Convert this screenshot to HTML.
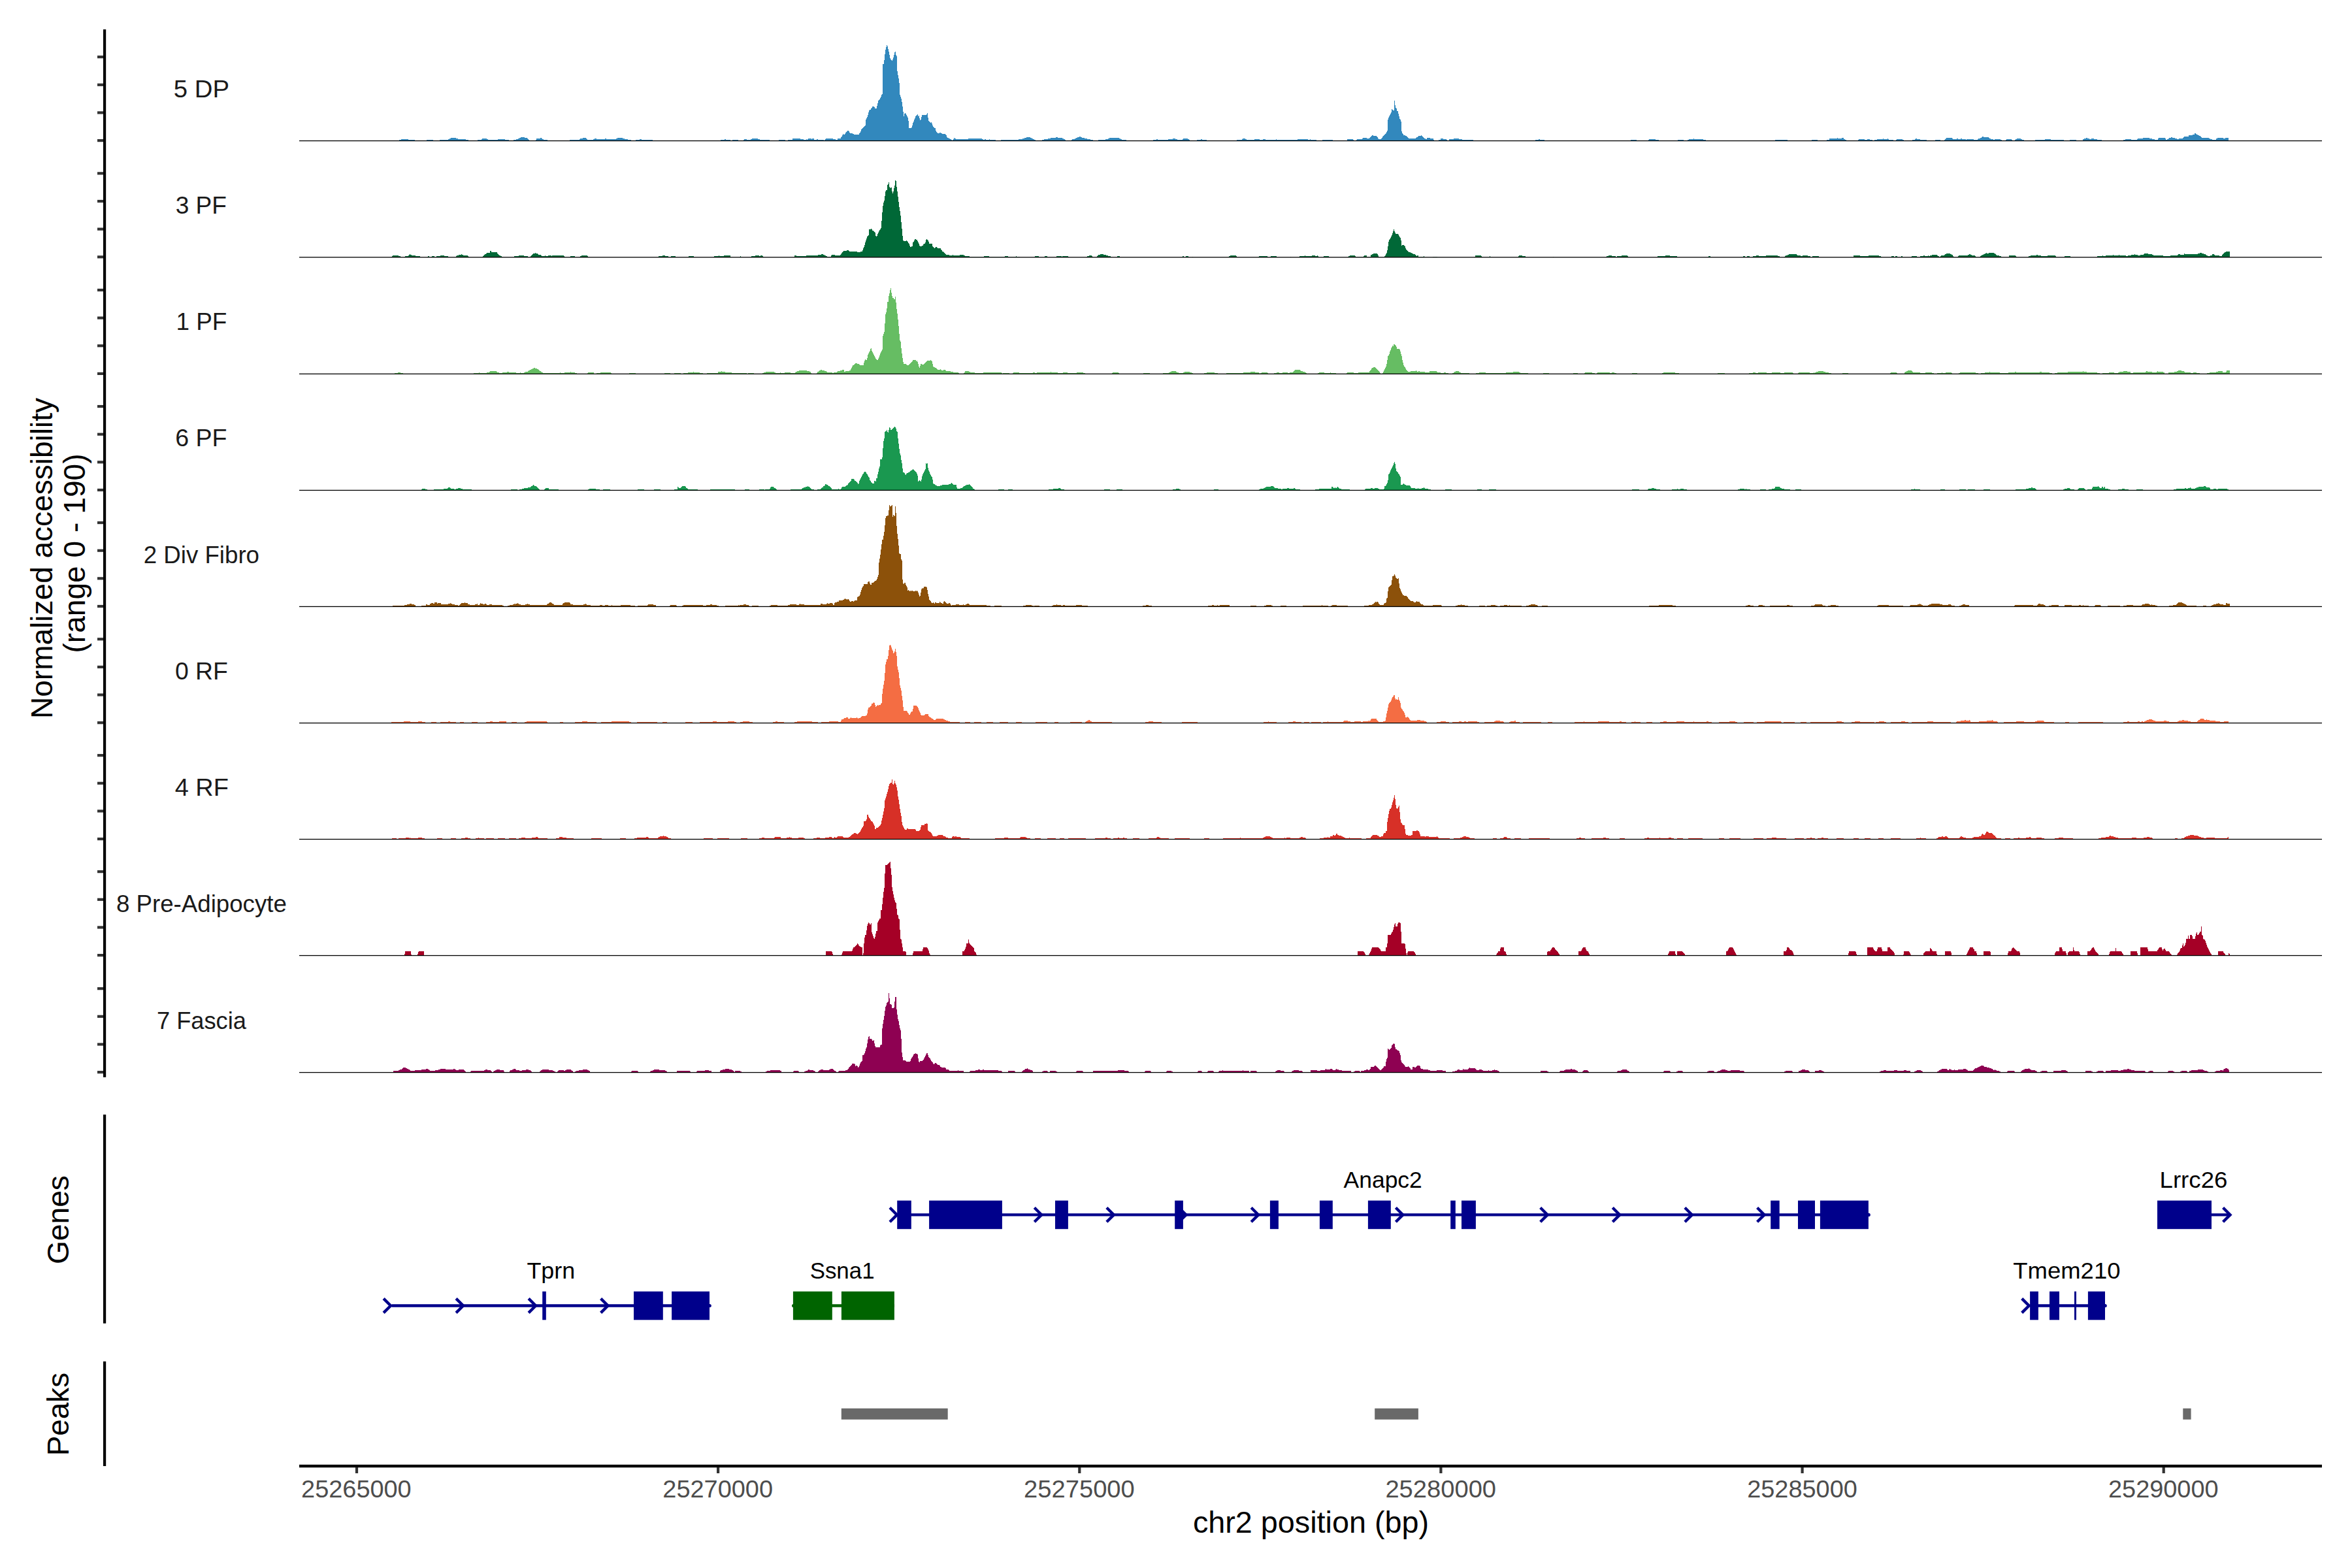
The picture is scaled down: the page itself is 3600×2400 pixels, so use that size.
<!DOCTYPE html>
<html lang="en"><head><meta charset="utf-8"><title>Coverage plot</title>
<style>html,body{margin:0;padding:0;background:#fff}body{width:3600px;height:2400px;overflow:hidden}svg{display:block}text{font-family:"Liberation Sans",sans-serif}</style></head><body>
<svg width="3600" height="2400" viewBox="0 0 3600 2400">
<rect width="3600" height="2400" fill="#fff"/>
<path d="M580.0,215.4L580.0,215.4L609.8,215.4L611.2,213.9L615.7,213.3L624.6,213.3L626.1,213.9L634.5,213.9L635.1,215.4L652.9,215.4L653.8,213.9L662.7,213.9L663.3,215.4L672.9,215.4L673.8,213.9L685.7,213.9L690.1,211.2L697.6,211.2L703.5,213.3L712.4,213.3L716.9,214.5L717.5,215.4L730.3,215.4L731.8,213.9L736.2,213.9L739.2,211.5L743.7,212.1L748.2,213.9L761.5,213.9L763.0,213.0L772.0,213.0L773.5,213.9L778.5,213.9L779.1,215.4L786.0,215.4L786.8,213.9L791.9,213.3L797.3,210.3L801.7,210.3L806.2,211.2L809.8,214.5L810.7,215.4L819.0,215.4L821.7,212.1L825.5,212.1L828.5,210.9L832.1,213.9L837.4,213.9L838.0,215.4L871.7,215.4L872.6,213.9L886.5,213.9L889.5,211.8L894.0,211.2L897.0,211.2L899.9,213.9L907.4,213.9L910.4,212.4L925.2,213.0L926.7,211.8L929.7,213.0L941.6,213.0L944.6,211.5L950.5,210.9L955.0,212.1L958.0,213.3L965.4,213.9L966.0,215.4L972.0,215.4L972.9,213.9L978.8,213.9L980.3,213.0L983.3,213.9L998.2,213.9L999.0,215.4L1102.9,215.4L1103.8,213.9L1108.3,213.9L1109.8,213.0L1112.7,213.9L1117.8,213.9L1118.7,215.4L1121.1,215.4L1121.7,213.9L1129.7,213.9L1130.0,215.4L1137.1,215.4L1138.0,213.9L1141.0,213.0L1144.0,213.9L1148.5,213.9L1149.9,212.7L1154.4,211.8L1158.9,211.8L1160.4,213.0L1164.8,213.9L1177.6,213.9L1178.2,215.4L1191.6,215.4L1192.5,213.9L1202.0,213.9L1202.6,215.4L1205.6,215.4L1206.5,213.9L1212.4,213.9L1213.3,211.8L1216.9,212.4L1219.9,211.8L1224.3,211.8L1225.8,213.0L1228.8,213.0L1230.3,213.9L1233.3,213.9L1234.2,213.0L1235.4,213.9L1237.7,211.8L1240.7,211.8L1242.2,213.0L1245.2,211.8L1246.7,213.9L1249.6,213.9L1250.5,213.0L1252.6,213.9L1258.6,213.9L1260.0,213.9L1261.9,214.8L1265.1,211.6L1273.4,211.6L1276.6,213.2L1278.5,212.5L1279.1,213.5L1281.9,213.5L1282.3,211.6L1286.8,211.6L1290.6,204.8L1292.1,206.1L1298.3,199.2L1300.6,203.3L1302.7,204.3L1305.7,204.6L1306.6,205.5L1314.8,205.5L1316.8,202.6L1318.4,198.4L1321.2,195.6L1325.1,191.8L1325.3,182.9L1328.2,177.8L1330.4,168.6L1332.1,168.2L1335.9,162.5L1337.8,162.5L1339.7,166.0L1340.6,165.7L1341.6,166.0L1344.2,154.8L1346.7,151.6L1348.9,147.8L1349.5,144.6L1350.9,144.4L1351.3,98.4L1352.9,98.1L1354.4,84.0L1355.9,73.8L1357.6,68.3L1359.2,73.2L1360.8,80.8L1363.1,92.3L1364.0,90.4L1365.2,94.2L1367.8,87.2L1369.4,80.2L1370.6,79.3L1371.0,83.6L1372.6,85.9L1373.0,105.7L1374.2,112.7L1375.4,119.7L1376.5,127.4L1377.1,144.0L1378.6,147.8L1379.9,152.3L1380.9,158.6L1381.8,165.7L1382.7,172.7L1383.5,178.2L1384.7,173.3L1386.3,173.7L1388.2,177.1L1389.8,180.6L1390.7,186.7L1391.1,196.3L1395.2,196.0L1397.8,187.3L1401.6,178.2L1404.8,175.2L1405.4,177.8L1406.7,177.1L1408.2,184.2L1409.9,182.2L1411.3,175.5L1418.2,175.5L1419.7,172.4L1421.0,183.9L1423.9,188.0L1425.8,187.3L1428.4,194.4L1431.6,196.3L1432.4,200.1L1435.4,204.3L1437.3,203.9L1439.0,202.3L1441.8,204.6L1445.6,204.6L1448.5,207.4L1450.1,211.2L1453.2,211.6L1457.1,214.8L1459.0,214.1L1460.5,211.3L1462.8,212.5L1470.5,212.5L1471.7,213.2L1474.9,213.2L1476.2,212.2L1476.8,213.2L1480.0,213.2L1483.9,211.6L1500.4,211.6L1504.9,213.5L1506.2,214.1L1506.8,213.2L1508.7,213.2L1509.4,214.1L1513.8,214.1L1514.8,213.2L1515.7,214.1L1523.4,214.4L1524.7,215.1L1531.7,215.1L1532.3,214.4L1540.6,214.4L1541.5,213.5L1542.1,214.4L1547.6,214.4L1548.5,213.5L1558.5,213.5L1560.0,212.8L1564.0,213.0L1569.9,210.6L1575.9,210.0L1580.3,212.4L1584.8,214.5L1585.4,215.4L1593.7,215.4L1596.7,213.6L1602.7,213.0L1608.6,211.2L1614.6,210.6L1617.5,210.3L1625.0,211.2L1629.5,213.3L1631.8,215.4L1638.4,215.4L1641.4,213.3L1645.8,212.4L1648.8,210.3L1653.3,209.2L1657.7,211.2L1662.2,211.8L1666.7,213.3L1672.6,213.9L1673.5,215.4L1680.0,215.4L1681.5,213.9L1690.5,213.9L1693.4,213.0L1696.4,212.4L1699.4,210.9L1702.4,211.5L1705.3,210.9L1711.3,210.9L1714.3,212.1L1717.2,213.9L1724.1,213.9L1724.7,215.4L1764.0,215.4L1764.9,213.9L1769.3,213.9L1770.8,213.0L1773.8,213.9L1787.2,213.9L1789.6,213.0L1794.6,213.0L1796.1,211.5L1799.1,212.4L1803.6,213.9L1809.5,213.9L1811.6,212.4L1815.5,211.8L1819.9,213.3L1822.3,215.4L1831.8,215.4L1832.7,213.9L1837.8,213.9L1838.7,213.0L1840.8,213.9L1846.7,213.9L1847.3,215.4L1892.2,215.4L1893.1,213.9L1900.3,213.9L1901.8,212.4L1906.2,212.4L1908.6,213.9L1919.6,213.9L1921.1,213.0L1927.1,213.0L1928.6,213.9L1932.4,213.9L1933.0,213.0L1936.0,213.0L1936.9,213.9L1952.4,213.9L1953.9,213.0L1954.8,213.9L1985.1,213.9L1986.6,213.0L2001.5,213.0L2003.0,213.9L2004.5,213.9L2005.9,213.0L2006.8,213.9L2014.9,213.9L2015.5,215.4L2019.3,215.4L2020.0,215.4L2023.8,215.4L2024.5,214.4L2039.8,214.4L2040.4,215.4L2060.8,215.4L2062.7,213.2L2070.4,213.2L2072.3,215.4L2074.8,215.4L2077.4,213.2L2083.5,213.2L2086.3,211.3L2092.1,211.3L2093.3,212.2L2095.9,212.2L2099.7,207.4L2102.3,207.4L2103.5,208.4L2107.4,208.4L2108.9,210.3L2109.9,213.2L2113.8,213.2L2117.6,207.7L2120.8,204.6L2122.9,201.8L2124.0,198.2L2124.3,183.5L2125.2,180.3L2127.8,175.2L2129.9,171.4L2130.3,166.3L2132.9,169.1L2134.0,168.8L2134.2,153.5L2134.8,153.5L2135.4,160.6L2136.1,165.0L2138.0,166.9L2138.2,169.5L2139.6,169.5L2140.2,173.3L2141.2,176.5L2142.1,182.2L2144.4,183.1L2145.0,199.5L2146.0,203.3L2148.6,206.7L2152.7,208.4L2157.1,212.0L2166.0,212.2L2171.1,208.4L2174.3,208.1L2175.4,207.4L2180.7,212.2L2183.9,213.2L2184.5,211.3L2188.4,211.3L2189.0,212.2L2193.5,212.2L2195.0,215.4L2201.1,215.4L2201.8,214.4L2204.9,214.4L2205.6,212.2L2208.5,212.2L2209.4,213.2L2213.2,213.2L2215.8,214.8L2216.4,215.4L2218.3,215.4L2218.5,213.2L2224.1,213.2L2225.0,212.2L2226.9,212.2L2227.7,211.3L2228.2,212.2L2232.4,212.2L2233.3,213.2L2237.5,213.2L2238.1,214.4L2249.0,214.4L2249.8,213.2L2250.6,214.4L2254.7,214.4L2255.3,215.4L2320.0,215.4L2350.1,215.4L2350.7,213.9L2354.6,213.9L2355.5,213.0L2357.6,213.9L2363.5,213.9L2364.1,215.4L2496.0,215.4L2496.5,213.9L2504.3,213.9L2504.9,215.4L2522.1,215.4L2523.3,213.9L2525.1,213.0L2533.2,213.0L2534.6,213.9L2538.5,213.9L2539.1,215.4L2568.0,215.4L2568.6,213.9L2576.3,213.9L2576.9,215.4L2582.9,215.4L2583.8,213.9L2586.7,213.0L2591.8,213.0L2592.4,212.1L2593.0,213.0L2606.1,213.0L2607.0,213.9L2610.5,213.9L2611.1,215.4L2716.2,215.4L2716.8,213.9L2735.5,213.9L2736.1,215.4L2772.7,215.4L2773.3,213.9L2781.7,213.9L2782.3,215.4L2795.1,215.4L2796.0,213.9L2799.5,213.9L2800.4,212.1L2804.0,211.5L2805.5,212.1L2811.4,212.1L2812.3,211.2L2814.4,212.1L2818.0,212.1L2818.9,211.2L2821.8,211.2L2822.7,213.0L2825.7,213.9L2826.9,215.4L2842.7,215.4L2844.2,213.9L2845.7,213.0L2853.1,213.0L2854.0,213.9L2857.6,213.9L2858.5,213.0L2861.4,213.0L2862.0,213.9L2865.6,213.9L2866.2,215.4L2868.9,215.4L2869.8,213.9L2872.4,213.9L2873.3,213.0L2881.4,213.0L2882.3,212.1L2883.5,213.0L2888.8,213.0L2889.7,212.1L2890.9,213.0L2891.8,213.9L2897.7,213.9L2898.3,215.4L2901.6,215.4L2902.5,213.9L2904.3,213.0L2911.1,213.0L2913.2,213.9L2914.1,215.4L2926.0,215.4L2926.9,213.9L2931.1,213.9L2932.9,212.1L2934.9,213.0L2937.9,213.0L2940.0,213.9L2961.0,215.4L2961.9,213.9L2969.3,213.9L2969.9,215.4L2975.0,215.4L2976.8,213.9L2978.9,211.2L2987.8,211.2L2989.3,213.0L2994.6,213.0L2995.8,211.8L2997.6,213.0L3000.6,213.0L3001.8,211.8L3004.2,213.0L3007.7,213.0L3009.5,213.9L3010.7,213.0L3020.5,213.0L3021.4,213.9L3026.5,213.9L3028.0,212.4L3031.0,211.8L3034.5,209.2L3037.5,210.0L3042.9,210.0L3045.2,211.8L3048.8,213.0L3052.4,213.9L3054.2,213.0L3060.7,213.0L3063.1,213.9L3064.3,215.4L3069.0,215.4L3070.2,213.9L3072.6,213.0L3078.0,213.0L3079.8,214.5L3080.4,215.4L3083.9,215.4L3085.1,213.3L3089.0,211.8L3092.9,212.4L3095.8,213.9L3097.9,214.5L3098.5,215.4L3114.3,215.4L3115.2,213.9L3129.2,213.9L3130.7,213.0L3138.1,213.0L3139.6,213.9L3158.3,213.9L3158.9,215.4L3167.9,215.4L3168.8,213.9L3177.4,213.9L3178.0,215.4L3187.2,215.4L3188.7,213.0L3191.1,211.8L3194.6,211.2L3197.6,212.4L3200.6,213.0L3202.1,211.8L3204.2,212.4L3209.5,213.0L3211.0,213.9L3217.0,213.9L3217.9,215.4L3249.1,215.4L3250.0,213.9L3252.7,213.9L3254.8,212.4L3257.1,213.0L3261.6,213.0L3262.5,213.9L3270.5,213.9L3272.0,212.4L3279.5,211.8L3281.0,210.9L3288.4,210.9L3290.5,211.8L3293.5,212.4L3297.3,213.0L3298.8,213.9L3302.4,213.9L3304.2,210.9L3314.3,210.9L3315.2,213.9L3318.2,213.0L3320.2,211.2L3322.6,211.2L3324.1,210.0L3325.6,211.2L3328.6,211.2L3331.5,212.4L3334.5,213.3L3336.0,211.8L3340.5,211.8L3342.9,209.7L3344.9,208.9L3349.4,208.9L3350.3,207.1L3355.4,207.1L3356.2,205.9L3358.3,206.5L3359.8,203.8L3362.8,205.9L3367.3,208.0L3370.2,210.9L3379.8,210.9L3382.1,212.4L3385.7,213.3L3386.6,213.9L3391.7,213.9L3392.9,211.8L3395.5,210.9L3402.4,210.9L3403.6,211.8L3406.0,211.8L3406.5,210.9L3410.7,210.9L3411.0,215.4L3411.0,215.4Z" fill="#3288BD" shape-rendering="crispEdges"/>
<rect x="458" y="214.90" width="3096" height="1.3" fill="#000"/>
<rect x="149" y="213.00" width="10" height="4.2" fill="#333"/>
<rect x="149" y="170.35" width="10" height="4.2" fill="#333"/>
<rect x="149" y="127.70" width="10" height="4.2" fill="#333"/>
<rect x="149" y="85.05" width="10" height="4.2" fill="#333"/>
<text id="s0" x="308.45" y="148.72" font-size="36.67" fill="#1a1a1a" text-anchor="middle" textLength="85.16" lengthAdjust="spacingAndGlyphs">5 DP</text>
<path d="M580.0,393.6L580.0,393.6L598.5,393.6L600.2,392.1L603.2,390.6L606.8,390.6L609.8,391.5L612.7,392.1L614.2,393.6L618.7,393.6L620.2,392.1L624.6,391.5L627.6,389.4L630.0,390.6L635.1,391.2L636.5,392.1L642.5,392.1L643.1,393.6L654.4,393.6L655.0,392.4L656.8,392.4L657.4,393.6L660.4,393.6L661.0,392.4L664.8,392.4L665.4,393.6L667.8,393.6L668.7,392.1L673.8,392.1L674.6,391.2L679.7,391.2L680.6,392.1L685.7,392.1L686.2,393.6L697.6,393.6L699.0,391.5L702.0,390.6L705.0,390.0L706.5,389.1L708.6,390.0L710.4,391.2L715.4,391.2L716.3,392.1L717.8,393.6L737.7,393.6L740.7,390.6L745.2,387.4L749.6,387.4L749.9,383.5L751.7,383.5L752.0,385.6L760.1,385.6L761.5,388.2L764.5,390.6L767.5,392.1L769.0,393.6L786.8,393.6L787.7,392.1L793.7,392.1L794.9,391.2L801.7,391.2L802.6,392.1L807.7,392.1L808.3,393.6L811.5,393.6L813.6,390.6L816.6,388.2L819.6,387.4L822.6,388.2L824.6,389.7L827.6,389.7L829.4,392.1L833.6,392.1L834.5,391.2L836.0,392.1L838.9,392.1L839.8,391.2L843.4,391.2L844.3,392.1L845.5,391.2L862.7,391.2L864.2,392.1L865.1,393.6L872.3,393.6L873.2,392.1L879.7,392.1L880.3,393.6L887.4,393.6L888.9,392.1L891.0,391.2L898.5,391.2L899.9,392.7L900.5,393.6L1007.7,393.6L1008.6,392.1L1013.0,392.1L1014.5,391.2L1017.5,391.2L1019.0,392.1L1022.6,392.1L1023.2,393.6L1026.4,393.6L1027.3,392.1L1033.9,392.1L1034.5,393.6L1053.8,393.6L1054.7,392.1L1061.5,392.1L1062.1,393.6L1091.9,393.6L1092.8,392.1L1099.3,392.1L1100.8,391.2L1102.3,392.1L1107.4,392.1L1108.6,391.2L1117.2,391.2L1118.1,392.1L1119.3,393.6L1132.1,393.6L1132.7,392.1L1133.9,392.1L1134.5,393.6L1149.3,393.6L1150.2,392.1L1155.9,392.1L1156.8,391.2L1161.8,391.2L1162.7,392.1L1164.2,391.2L1166.3,391.2L1167.2,392.1L1169.3,393.6L1215.4,393.6L1216.0,391.2L1218.4,391.2L1219.0,392.1L1222.3,392.1L1222.9,391.2L1224.3,392.1L1233.3,392.1L1234.2,391.2L1251.1,391.2L1252.6,390.0L1256.2,390.0L1257.4,389.1L1259.8,389.1L1260.0,390.0L1261.9,390.3L1264.5,391.8L1267.0,393.1L1271.5,393.1L1272.8,390.7L1274.7,390.0L1277.9,390.0L1279.1,391.0L1286.1,391.0L1287.4,388.8L1291.2,384.2L1295.1,383.9L1297.0,382.9L1298.3,383.3L1300.2,384.9L1311.0,384.9L1312.6,385.9L1316.1,385.9L1317.7,385.2L1319.3,384.9L1321.0,382.0L1323.8,373.7L1327.2,362.2L1329.9,359.4L1330.2,351.1L1332.7,351.0L1334.0,349.8L1335.0,352.7L1337.2,353.5L1339.7,356.2L1340.1,360.7L1341.6,362.2L1342.9,360.7L1343.2,358.1L1344.8,355.8L1346.7,352.0L1348.6,348.8L1349.3,341.2L1350.2,329.1L1351.2,316.3L1352.1,311.8L1353.8,306.1L1354.4,300.4L1355.4,293.3L1356.3,291.2L1357.6,291.0L1358.2,283.4L1359.5,281.6L1360.5,279.1L1361.1,284.4L1362.4,288.0L1364.0,287.2L1364.6,287.0L1364.8,290.5L1366.1,295.6L1367.1,295.9L1368.4,288.2L1369.7,283.4L1370.3,276.1L1371.6,277.0L1372.2,283.8L1373.3,290.8L1374.2,298.2L1375.2,306.1L1376.1,313.8L1377.3,322.0L1378.6,330.3L1379.3,338.6L1380.5,349.5L1381.4,359.4L1382.2,368.0L1384.4,369.0L1386.3,369.2L1388.2,368.0L1389.8,370.9L1391.4,373.1L1392.7,376.9L1393.7,378.2L1395.2,377.3L1396.7,376.9L1397.1,371.4L1399.0,369.6L1400.3,366.0L1401.8,366.3L1403.5,367.1L1406.0,372.4L1408.2,377.0L1410.5,376.9L1412.4,376.0L1414.3,373.4L1416.2,372.4L1417.5,367.1L1418.5,365.8L1420.5,368.0L1422.6,373.1L1423.9,373.4L1425.2,372.8L1426.5,373.4L1427.1,376.9L1430.3,379.8L1432.4,377.8L1433.7,378.2L1435.8,380.1L1437.9,379.4L1439.8,380.3L1442.4,384.9L1444.9,385.8L1448.1,390.0L1452.0,390.0L1453.9,391.0L1457.1,391.0L1458.0,390.0L1459.0,391.0L1467.9,391.0L1469.8,390.0L1474.3,390.0L1477.5,391.8L1483.9,392.1L1484.5,393.1L1505.5,393.1L1506.8,392.1L1513.2,392.1L1514.1,393.1L1523.0,393.1L1524.0,392.1L1525.1,393.1L1537.8,393.1L1538.7,392.1L1542.5,392.1L1543.4,393.1L1554.6,393.1L1555.4,392.1L1556.2,393.1L1560.0,393.1L1560.8,393.6L1584.0,393.6L1584.6,392.1L1589.7,392.1L1590.3,393.6L1598.9,393.6L1599.5,392.1L1602.5,392.1L1603.1,393.6L1616.8,393.6L1617.4,392.1L1624.8,392.1L1625.4,393.6L1626.0,392.1L1635.2,392.1L1635.8,393.6L1662.9,393.6L1663.8,392.1L1666.5,392.1L1667.4,391.2L1671.0,391.2L1672.4,392.4L1673.0,393.6L1678.7,393.6L1679.9,391.2L1682.9,389.7L1687.3,389.1L1691.8,390.0L1694.8,391.2L1699.2,392.1L1700.7,392.7L1701.3,393.6L1709.6,393.6L1710.2,392.1L1713.8,392.1L1714.4,393.6L1809.9,393.6L1810.5,392.1L1811.7,392.1L1812.3,393.6L1814.7,393.6L1815.3,392.1L1818.6,392.1L1819.2,393.6L1824.8,393.6L1825.4,392.4L1826.0,393.6L1880.8,393.6L1881.7,392.1L1883.8,391.2L1891.2,391.2L1892.7,392.4L1893.3,393.6L1926.0,393.6L1926.9,392.1L1940.3,392.1L1940.9,393.6L1943.9,393.6L1944.8,392.1L1953.7,392.1L1954.3,393.6L1975.1,393.6L1975.7,392.4L1976.3,393.6L1987.9,393.6L1988.8,392.1L1996.8,392.1L1997.4,391.2L1998.3,392.1L2007.3,392.1L2008.5,391.2L2012.3,391.2L2013.2,392.1L2015.6,392.1L2016.2,391.2L2017.4,392.1L2018.0,393.6L2019.2,393.6L2020.0,393.6L2024.5,393.6L2025.7,392.3L2034.0,392.3L2035.1,393.6L2062.7,393.6L2064.0,392.3L2065.9,391.4L2074.2,391.4L2075.5,392.6L2087.3,392.6L2088.6,391.4L2091.7,391.4L2092.4,392.6L2097.6,392.6L2098.4,390.4L2102.9,388.2L2107.4,388.2L2109.3,390.4L2110.8,393.3L2111.2,393.6L2118.9,393.6L2119.7,391.7L2122.0,388.5L2123.3,384.0L2124.3,378.3L2125.2,371.3L2126.2,367.5L2128.8,364.0L2130.7,359.8L2132.2,354.7L2133.5,351.3L2135.4,356.0L2137.1,358.3L2140.5,358.5L2141.8,361.7L2143.7,364.5L2144.7,369.1L2145.3,376.0L2146.9,375.1L2148.8,375.5L2150.7,376.8L2151.4,379.6L2152.7,382.4L2155.8,385.3L2157.8,386.2L2160.3,387.2L2163.5,388.8L2166.0,389.5L2168.0,391.7L2169.0,392.3L2169.5,391.4L2170.8,391.4L2171.4,392.6L2178.8,392.6L2179.4,391.4L2179.9,393.6L2192.8,393.6L2193.7,392.6L2199.2,392.6L2200.1,393.6L2257.0,393.6L2258.5,391.4L2267.4,391.4L2268.7,393.3L2269.0,393.6L2279.8,393.6L2280.5,392.3L2281.0,393.6L2320.0,393.6L2320.4,393.6L2323.9,393.6L2325.1,391.2L2329.3,391.2L2330.2,392.1L2334.6,392.1L2335.2,393.6L2376.6,393.6L2377.2,392.4L2377.8,393.6L2457.9,393.6L2458.8,392.1L2461.7,392.1L2462.6,391.2L2466.2,391.2L2467.1,392.1L2472.7,392.1L2473.3,393.6L2474.5,393.6L2475.4,392.1L2481.1,392.1L2482.0,391.2L2490.6,391.2L2491.5,392.1L2492.4,393.6L2536.7,393.6L2537.6,392.1L2548.9,392.1L2549.8,391.2L2555.5,391.2L2556.4,392.1L2566.5,392.1L2567.1,393.6L2615.0,393.6L2615.6,392.1L2617.7,392.1L2618.3,393.6L2668.0,393.6L2668.6,392.1L2670.7,392.1L2671.2,393.6L2673.9,393.6L2674.5,392.1L2677.5,392.1L2678.1,393.6L2682.0,393.6L2682.9,392.1L2687.9,392.1L2688.8,391.2L2691.8,391.2L2692.4,392.1L2702.8,392.1L2703.7,391.2L2720.7,391.2L2721.5,392.1L2723.6,392.1L2724.2,393.6L2730.5,393.6L2732.6,391.5L2737.0,390.0L2740.6,388.5L2744.5,388.5L2746.0,389.1L2749.5,389.1L2751.3,390.6L2755.5,391.2L2756.4,392.1L2758.5,392.1L2759.3,391.2L2766.8,391.2L2768.0,392.1L2770.4,392.1L2771.0,393.6L2773.6,393.6L2774.5,392.1L2783.8,392.1L2784.3,393.6L2836.7,393.6L2837.3,391.2L2846.5,391.2L2847.4,392.1L2859.6,392.1L2860.5,391.2L2875.4,391.2L2876.3,392.1L2879.3,392.1L2879.9,393.6L2894.8,393.6L2895.4,392.1L2898.6,392.1L2899.2,393.6L2900.7,393.6L2901.3,392.1L2903.7,392.1L2904.3,393.6L2909.6,393.6L2910.2,392.1L2911.7,392.1L2912.3,393.6L2925.4,393.6L2926.3,392.1L2934.3,392.1L2934.9,393.6L2936.4,393.6L2938.7,393.6L2939.6,392.1L2943.2,392.1L2944.0,391.2L2946.1,391.2L2947.0,392.1L2950.6,392.1L2951.5,391.2L2953.0,392.1L2955.1,391.2L2958.0,390.0L2964.0,390.0L2965.5,391.2L2967.9,392.1L2968.5,393.6L2969.9,392.1L2971.4,391.2L2975.9,391.2L2977.4,389.1L2980.4,388.2L2981.8,387.4L2983.9,388.2L2986.3,389.1L2988.7,390.6L2990.2,392.7L2990.8,393.6L2995.8,393.6L2997.0,392.1L2998.8,391.2L3011.6,391.2L3013.1,390.0L3014.6,389.1L3017.0,390.0L3018.5,391.2L3022.6,391.2L3024.4,392.7L3025.0,393.6L3029.5,393.6L3031.0,392.1L3033.3,390.6L3036.9,389.1L3039.3,388.2L3040.5,387.4L3043.5,388.2L3045.8,386.5L3050.3,386.5L3051.8,387.6L3054.8,389.1L3056.2,390.6L3059.2,391.2L3060.7,392.1L3062.8,392.1L3063.4,393.6L3074.7,393.6L3075.3,391.2L3084.5,391.2L3086.0,392.1L3087.5,393.6L3103.9,393.6L3104.8,392.1L3107.7,392.1L3108.9,391.2L3117.3,391.2L3117.9,389.1L3119.0,390.6L3123.2,391.2L3124.7,392.1L3133.6,392.1L3134.5,391.2L3145.5,391.2L3146.4,392.1L3147.3,393.6L3159.8,393.6L3160.7,392.1L3168.8,392.1L3169.3,393.6L3209.5,393.6L3210.4,392.1L3217.9,392.1L3218.5,391.2L3219.3,392.1L3222.9,392.1L3223.8,391.2L3233.9,391.2L3234.5,390.0L3235.4,391.2L3242.9,391.2L3243.8,390.0L3245.2,391.2L3253.6,391.2L3254.2,392.1L3256.5,392.1L3257.1,391.2L3261.6,390.6L3263.1,390.0L3266.7,390.0L3267.6,389.1L3268.5,390.0L3272.0,390.0L3272.9,391.2L3275.6,391.2L3276.5,390.0L3280.4,389.7L3282.4,388.2L3287.5,388.2L3289.3,389.1L3293.5,389.1L3295.8,390.6L3298.8,391.2L3310.7,391.2L3311.6,392.1L3321.1,392.1L3322.0,391.2L3332.1,391.2L3333.9,389.7L3336.0,388.2L3337.5,390.0L3342.9,390.0L3343.5,388.2L3344.3,389.1L3363.7,389.1L3364.9,388.2L3367.9,387.4L3370.2,387.4L3373.2,388.8L3376.2,389.7L3378.6,391.2L3380.1,392.4L3382.7,392.4L3383.6,391.2L3385.7,390.6L3386.6,389.1L3388.7,389.1L3390.5,390.6L3392.6,391.2L3397.0,391.2L3397.9,392.1L3400.9,392.1L3401.8,389.7L3403.6,387.4L3406.0,385.9L3409.5,384.7L3411.3,384.4L3412.5,385.3L3412.8,393.6L3412.8,393.6Z" fill="#006837" shape-rendering="crispEdges"/>
<rect x="458" y="393.10" width="3096" height="1.3" fill="#000"/>
<rect x="149" y="391.20" width="10" height="4.2" fill="#333"/>
<rect x="149" y="348.55" width="10" height="4.2" fill="#333"/>
<rect x="149" y="305.90" width="10" height="4.2" fill="#333"/>
<rect x="149" y="263.25" width="10" height="4.2" fill="#333"/>
<text id="s1" x="307.80" y="326.98" font-size="36.67" fill="#1a1a1a" text-anchor="middle" textLength="78.25" lengthAdjust="spacingAndGlyphs">3 PF</text>
<path d="M580.0,572.2L580.0,572.2L603.8,572.2L604.7,571.0L608.3,571.0L609.2,569.8L612.7,569.8L613.6,571.0L617.2,571.0L617.8,572.2L724.0,572.2L724.9,571.0L732.4,571.0L733.3,569.8L734.2,571.0L744.3,571.0L745.5,569.8L749.0,569.8L750.2,568.0L760.1,568.0L761.5,569.8L763.9,569.8L764.5,571.0L769.0,571.0L769.9,569.8L775.8,569.8L776.7,568.9L778.8,568.9L779.7,569.8L789.8,569.8L790.7,571.0L795.8,571.0L796.7,569.8L797.6,571.0L801.7,571.0L803.2,569.8L806.8,568.9L810.7,566.8L815.1,564.2L818.1,563.0L821.1,564.2L824.0,565.4L827.0,568.0L830.0,569.8L831.5,571.0L856.8,571.0L857.4,569.8L858.3,571.0L863.3,571.0L864.5,569.8L872.6,569.8L873.5,568.9L874.3,569.8L879.1,569.8L880.6,571.0L883.0,571.0L883.6,572.2L897.9,572.2L899.0,571.0L900.8,569.8L908.3,569.8L909.2,571.0L909.8,572.2L912.7,572.2L913.6,571.0L918.7,571.0L919.9,569.8L934.2,569.8L935.4,571.0L936.0,572.2L962.7,572.2L963.6,571.0L972.3,571.0L973.2,572.2L1016.9,572.2L1017.5,571.0L1025.5,571.0L1026.1,572.2L1031.8,572.2L1032.4,571.0L1041.6,571.0L1042.2,572.2L1045.8,572.2L1046.7,571.0L1052.6,571.0L1053.5,569.8L1060.7,569.8L1061.5,568.9L1062.4,569.8L1070.5,569.8L1071.4,571.0L1076.1,571.0L1076.7,572.2L1081.8,572.2L1082.7,571.0L1098.5,571.0L1099.6,568.9L1103.2,568.9L1104.1,568.0L1105.0,568.9L1108.3,568.9L1109.2,568.0L1110.1,569.8L1119.3,569.8L1120.5,571.0L1142.5,571.0L1143.4,572.2L1144.6,572.2L1145.5,571.0L1153.5,571.0L1154.1,572.2L1166.9,572.2L1167.8,571.0L1170.8,569.8L1175.2,568.9L1184.2,568.9L1185.7,569.8L1187.7,571.0L1193.7,571.0L1194.3,569.8L1195.2,571.0L1200.5,571.0L1201.4,569.8L1209.5,569.8L1210.4,571.0L1216.9,571.0L1218.4,568.9L1221.4,568.0L1224.3,566.8L1228.8,567.1L1231.8,566.8L1234.8,567.4L1237.7,568.0L1240.7,569.5L1242.8,572.2L1249.6,572.2L1251.1,569.5L1254.1,567.4L1257.1,566.2L1258.6,566.8L1260.0,567.4L1261.9,567.4L1264.5,568.4L1267.7,570.3L1274.0,570.3L1275.3,571.2L1276.6,570.3L1280.4,570.3L1282.3,568.4L1285.5,568.0L1286.8,567.1L1288.7,567.1L1289.6,566.3L1291.6,566.3L1292.1,569.3L1294.4,568.4L1299.5,568.4L1300.6,567.4L1301.8,567.1L1302.7,564.2L1305.3,559.3L1307.8,557.8L1309.7,556.1L1312.0,556.1L1312.9,557.1L1314.6,557.1L1316.1,559.1L1321.9,559.1L1322.2,555.5L1324.4,550.1L1326.1,550.8L1327.0,550.4L1328.5,543.1L1330.8,538.7L1332.4,534.2L1333.6,532.9L1334.2,536.7L1336.5,541.2L1339.1,546.3L1341.6,550.4L1343.5,551.2L1345.2,547.6L1348.0,539.9L1350.6,534.8L1351.2,515.1L1352.5,510.6L1353.8,506.8L1354.4,495.3L1355.0,492.1L1355.4,481.3L1356.7,477.4L1357.6,471.7L1358.2,461.1L1359.2,464.0L1359.7,460.6L1360.3,453.4L1361.4,449.4L1362.4,444.5L1363.6,441.1L1364.1,446.8L1365.2,450.6L1366.1,456.4L1367.1,455.1L1367.8,457.0L1368.4,457.7L1369.7,458.6L1369.9,454.2L1370.7,454.2L1371.0,462.8L1372.0,463.4L1372.2,471.1L1373.3,478.1L1374.2,486.4L1375.2,495.3L1376.1,504.9L1376.7,514.4L1377.3,520.8L1378.6,523.6L1379.3,531.0L1380.2,538.7L1381.2,545.7L1382.2,552.7L1383.1,557.1L1386.3,557.1L1387.6,557.8L1388.8,559.1L1390.7,559.1L1392.7,557.1L1395.2,554.2L1397.5,551.4L1399.7,551.0L1401.6,551.4L1402.6,552.9L1403.5,552.0L1404.8,554.2L1406.0,559.1L1407.3,563.1L1408.6,560.3L1409.2,557.1L1411.1,557.5L1411.8,558.0L1413.7,558.0L1416.2,555.5L1419.4,552.4L1422.0,552.0L1423.9,552.0L1424.8,551.2L1425.8,552.7L1426.8,553.7L1427.7,557.5L1428.4,561.0L1430.9,562.6L1432.8,563.5L1435.4,566.1L1438.6,566.3L1439.6,565.2L1441.4,567.4L1443.7,567.1L1444.9,566.1L1446.9,566.5L1448.8,568.0L1451.3,568.4L1455.2,568.4L1456.4,569.3L1459.0,569.3L1460.9,570.3L1466.6,570.5L1469.2,572.2L1474.9,572.2L1477.5,568.4L1483.2,568.4L1485.1,569.9L1488.3,570.3L1491.5,570.3L1492.4,571.2L1504.9,571.2L1505.5,570.3L1532.3,570.3L1534.2,571.8L1535.5,571.2L1545.1,571.2L1546.4,572.2L1549.5,572.2L1551.5,570.3L1560.0,570.3L1560.8,571.0L1581.1,571.0L1582.0,569.8L1583.5,569.8L1584.3,571.0L1587.0,571.0L1587.9,569.8L1607.9,569.8L1608.5,568.9L1609.3,569.8L1618.0,569.8L1618.9,571.0L1626.3,571.0L1627.2,569.8L1633.2,569.8L1634.0,571.0L1647.7,571.0L1648.6,569.8L1657.6,569.8L1659.0,571.0L1660.5,571.0L1661.1,572.2L1700.7,572.2L1702.2,571.0L1705.2,569.8L1711.1,569.8L1712.6,571.0L1714.1,572.2L1749.8,572.2L1750.7,571.0L1759.6,571.0L1760.2,572.2L1779.9,572.2L1780.8,571.0L1788.5,571.0L1790.0,569.8L1793.0,568.6L1796.0,567.7L1798.9,568.0L1801.9,569.8L1804.9,571.0L1810.8,571.0L1812.3,569.8L1815.3,568.9L1819.2,568.9L1821.2,569.8L1824.2,570.4L1825.7,571.6L1826.3,572.2L1842.7,572.2L1843.6,571.0L1846.5,571.0L1848.0,569.8L1857.9,569.8L1859.0,571.0L1863.5,571.0L1864.1,572.2L1876.6,572.2L1877.5,571.0L1902.5,571.0L1903.7,569.8L1913.5,569.8L1915.6,568.9L1920.4,568.9L1921.8,569.8L1926.3,569.8L1927.5,571.0L1928.4,572.2L1929.9,571.0L1931.7,569.8L1938.8,569.8L1940.3,571.0L1941.8,572.2L1949.8,572.2L1950.7,571.0L1953.7,571.0L1954.6,569.8L1957.3,569.8L1958.2,571.0L1962.6,571.0L1963.5,569.8L1970.1,569.8L1971.0,571.0L1973.9,571.0L1975.1,569.8L1979.0,569.8L1980.5,568.0L1982.0,566.2L1989.4,566.2L1990.9,567.4L1994.8,568.9L1998.3,569.8L1999.8,571.0L2001.3,572.2L2016.8,572.2L2018.0,571.0L2019.2,570.4L2020.0,570.0L2026.4,570.0L2027.0,571.1L2035.9,571.1L2036.6,570.0L2037.2,571.1L2044.2,571.1L2045.5,572.2L2060.8,572.2L2062.7,570.0L2071.7,570.0L2072.6,571.1L2078.7,571.1L2079.9,570.0L2095.9,570.0L2096.5,568.1L2099.7,564.0L2102.9,561.7L2105.5,563.0L2108.0,565.6L2110.6,568.1L2113.1,571.9L2115.0,572.2L2116.3,571.3L2118.9,566.2L2122.0,559.8L2123.3,552.8L2124.3,545.2L2125.9,543.9L2127.8,537.5L2129.9,532.4L2131.0,529.9L2131.9,528.8L2132.2,532.4L2132.9,527.3L2134.2,526.7L2135.4,527.9L2137.3,530.5L2138.6,533.9L2141.8,533.9L2143.1,536.5L2143.7,539.4L2144.7,542.0L2145.6,545.8L2146.9,552.8L2148.2,557.9L2149.5,560.5L2150.7,562.0L2151.4,564.3L2152.7,566.2L2155.2,569.0L2159.0,569.0L2159.7,567.9L2166.7,567.9L2167.6,566.8L2168.6,568.1L2169.2,569.0L2170.8,569.0L2171.5,567.9L2172.4,568.1L2173.1,569.0L2180.7,569.0L2181.4,570.0L2187.7,570.0L2188.4,567.9L2198.6,567.9L2200.1,569.8L2204.3,570.0L2205.2,571.1L2209.8,571.1L2210.4,570.0L2212.6,570.0L2213.2,571.1L2216.4,571.1L2217.4,572.2L2222.6,572.2L2224.7,570.4L2228.5,568.1L2232.4,567.9L2234.3,569.4L2236.2,571.1L2248.3,571.1L2249.6,572.2L2257.9,572.2L2259.2,571.1L2263.6,571.1L2264.6,570.0L2273.2,570.0L2274.1,571.1L2303.8,571.1L2305.1,570.0L2315.7,570.0L2316.6,569.0L2320.0,569.0L2320.4,568.9L2323.9,568.9L2325.1,569.8L2327.8,571.0L2338.2,571.0L2339.1,572.2L2361.4,572.2L2362.3,571.0L2370.4,571.0L2371.0,572.2L2407.6,572.2L2408.5,571.0L2414.7,571.0L2415.3,572.2L2424.5,572.2L2425.4,571.0L2427.5,569.8L2435.8,569.8L2437.0,571.0L2440.9,571.0L2441.5,572.2L2443.3,572.2L2444.2,571.0L2446.8,569.8L2463.2,569.8L2464.4,571.0L2466.8,571.0L2467.7,569.8L2470.7,569.8L2471.5,571.0L2473.6,571.0L2474.2,572.2L2497.4,572.2L2498.3,571.0L2505.5,571.0L2506.1,572.2L2543.6,572.2L2544.5,571.0L2547.4,569.8L2562.9,569.8L2564.4,571.0L2569.5,571.0L2570.1,572.2L2628.7,572.2L2629.6,571.0L2639.4,571.0L2640.0,572.2L2676.0,572.2L2676.9,571.0L2682.9,571.0L2683.8,569.8L2686.4,569.8L2687.3,571.0L2690.9,571.0L2691.8,569.8L2703.1,569.8L2704.3,571.0L2711.7,571.0L2712.6,569.8L2724.5,569.8L2725.7,571.0L2730.5,571.0L2731.7,569.8L2743.6,569.8L2744.8,571.0L2745.4,572.2L2751.3,572.2L2752.2,571.0L2753.4,569.8L2769.2,569.8L2770.4,571.0L2775.7,571.0L2776.3,569.8L2777.2,571.0L2778.7,569.8L2782.3,568.9L2784.6,568.0L2790.0,568.0L2792.1,568.9L2794.2,569.8L2798.0,569.8L2799.5,571.0L2802.5,571.0L2803.1,572.2L2819.8,572.2L2820.7,571.0L2828.4,571.0L2829.0,572.2L2892.4,572.2L2893.6,571.0L2895.7,569.8L2902.2,569.8L2903.7,571.0L2904.9,572.2L2914.4,572.2L2915.6,569.8L2918.6,568.0L2921.5,567.1L2925.4,567.1L2926.9,568.9L2929.0,569.8L2936.4,569.8L2938.7,569.8L2939.6,571.0L2946.1,571.0L2947.6,569.8L2956.0,569.8L2957.1,571.0L2959.5,571.0L2960.1,572.2L2964.0,572.2L2964.9,571.0L2971.4,571.0L2972.3,569.8L2973.8,571.0L2978.0,571.0L2979.2,569.8L2986.3,569.8L2987.5,571.0L2988.1,572.2L2997.6,572.2L2998.8,571.0L3001.2,569.8L3022.6,569.8L3024.4,571.0L3027.4,571.0L3028.0,572.2L3031.5,572.2L3032.4,571.0L3037.5,571.0L3038.7,569.8L3044.3,569.8L3045.2,568.9L3046.1,569.8L3060.1,569.8L3061.3,571.0L3073.2,571.0L3074.4,569.8L3083.9,569.8L3084.8,568.9L3086.0,569.8L3121.7,569.8L3122.6,568.9L3124.7,568.9L3125.6,569.8L3136.6,569.8L3138.1,571.0L3140.5,571.0L3141.1,572.2L3144.0,572.2L3144.9,571.0L3148.5,571.0L3149.4,569.8L3164.9,569.8L3165.8,568.0L3167.0,568.9L3187.2,568.9L3188.1,568.0L3189.3,568.9L3193.2,568.9L3194.0,569.8L3209.5,569.8L3211.0,571.0L3213.4,571.0L3214.0,572.2L3217.9,572.2L3218.8,571.0L3227.4,571.0L3228.9,569.8L3235.7,569.8L3236.6,571.0L3241.7,571.0L3242.9,569.8L3245.2,568.9L3248.8,568.9L3250.6,568.0L3254.8,568.0L3256.2,568.9L3260.1,568.9L3261.6,571.0L3264.6,571.0L3265.5,569.8L3283.3,569.8L3284.8,568.9L3286.3,568.0L3287.8,568.9L3292.9,568.9L3294.3,569.8L3301.2,569.8L3302.4,568.0L3303.9,568.9L3310.7,568.9L3312.5,570.4L3313.7,572.2L3318.8,572.2L3319.6,569.8L3327.1,569.8L3328.6,568.9L3331.5,568.9L3333.0,568.0L3335.1,567.1L3338.1,567.1L3339.9,568.0L3342.9,568.0L3344.0,569.8L3352.4,569.8L3353.6,571.0L3356.8,571.0L3357.7,569.8L3361.3,569.8L3362.2,571.0L3366.4,571.0L3367.3,572.2L3377.7,572.2L3378.6,571.0L3381.5,571.0L3382.7,569.8L3391.1,569.8L3392.6,568.9L3394.9,568.9L3396.1,568.0L3401.5,568.0L3402.4,569.8L3407.4,569.8L3408.0,567.1L3412.5,567.1L3412.8,572.2L3412.8,572.2Z" fill="#66BD63" shape-rendering="crispEdges"/>
<rect x="458" y="571.70" width="3096" height="1.3" fill="#000"/>
<rect x="149" y="569.80" width="10" height="4.2" fill="#333"/>
<rect x="149" y="527.15" width="10" height="4.2" fill="#333"/>
<rect x="149" y="484.50" width="10" height="4.2" fill="#333"/>
<rect x="149" y="441.85" width="10" height="4.2" fill="#333"/>
<text id="s2" x="308.45" y="505.23" font-size="36.67" fill="#1a1a1a" text-anchor="middle" textLength="77.95" lengthAdjust="spacingAndGlyphs">1 PF</text>
<path d="M580.0,750.3L580.0,750.3L644.9,750.3L646.1,748.2L650.8,748.2L652.0,749.1L653.8,749.1L654.4,750.3L663.9,750.3L664.8,749.1L669.3,749.1L669.9,748.2L671.1,749.1L678.8,749.1L679.7,748.2L684.8,748.2L686.5,746.4L688.6,746.4L690.1,747.6L694.6,748.2L695.5,749.1L697.6,749.1L698.5,748.2L700.5,748.2L701.4,747.3L705.0,747.3L705.9,748.2L708.0,748.2L708.9,749.1L722.3,749.1L722.9,750.3L781.8,750.3L782.7,749.1L791.3,749.1L792.2,750.3L794.9,750.3L795.8,749.1L798.8,749.1L799.6,748.2L801.7,748.2L802.6,747.3L807.7,747.3L808.6,745.5L812.1,745.5L813.0,744.3L815.1,743.5L816.6,742.3L818.1,743.5L820.5,744.3L822.6,745.8L824.0,748.2L825.5,749.1L826.7,750.3L831.8,750.3L833.0,749.1L835.1,747.3L839.5,747.3L840.7,749.1L855.3,749.1L855.9,750.3L899.9,750.3L900.8,749.1L902.9,748.2L911.8,748.2L913.3,749.1L917.8,749.1L918.4,750.3L922.9,750.3L923.8,749.1L933.6,749.1L934.2,750.3L975.8,750.3L976.7,749.1L985.4,749.1L986.0,750.3L1000.5,750.3L1001.4,749.1L1010.4,749.1L1011.0,750.3L1031.8,750.3L1032.7,749.1L1036.8,749.1L1037.4,745.2L1039.2,746.4L1040.7,747.3L1042.8,745.8L1044.3,744.3L1048.8,744.3L1050.2,746.4L1052.6,748.2L1054.7,749.1L1067.5,749.1L1068.1,750.3L1086.8,750.3L1087.7,749.1L1124.6,749.1L1125.2,750.3L1139.5,750.3L1140.4,749.1L1146.4,749.1L1147.0,750.3L1161.0,750.3L1161.8,749.1L1169.3,749.1L1170.2,750.3L1171.7,749.1L1177.6,749.1L1178.8,747.3L1180.6,745.2L1183.6,745.2L1184.8,746.4L1187.1,747.3L1188.9,749.1L1190.1,750.3L1209.8,750.3L1210.7,749.1L1226.4,749.1L1228.2,747.6L1230.3,746.4L1233.3,745.2L1236.2,744.3L1238.3,745.2L1240.7,747.3L1243.1,749.1L1245.5,749.1L1246.1,750.3L1250.8,750.3L1251.7,749.1L1255.6,749.1L1257.1,747.3L1259.5,745.8L1260.0,744.2L1261.9,743.7L1263.6,740.7L1265.1,742.0L1267.7,742.9L1270.8,745.5L1272.8,747.1L1273.4,749.0L1283.0,749.0L1283.6,747.7L1284.5,749.0L1286.5,749.0L1289.3,744.9L1293.4,744.9L1295.7,743.3L1297.2,742.6L1298.3,740.7L1300.8,737.9L1303.1,735.6L1303.4,732.8L1305.7,732.8L1307.4,734.0L1308.5,735.6L1310.4,736.9L1312.6,739.2L1313.6,741.0L1314.6,740.1L1315.1,736.3L1316.1,734.4L1318.0,731.2L1319.9,727.3L1322.5,722.9L1323.8,721.9L1325.1,722.2L1326.3,724.2L1328.2,727.3L1329.5,730.3L1330.8,731.8L1331.4,735.0L1332.7,736.3L1334.2,739.1L1336.5,740.4L1337.8,740.1L1338.2,736.0L1339.7,736.0L1340.6,736.9L1341.2,732.2L1342.7,732.2L1343.3,726.1L1344.2,723.5L1345.1,718.4L1346.5,714.6L1347.4,703.1L1349.9,702.9L1350.8,698.6L1351.3,687.2L1352.1,683.3L1352.5,675.0L1353.4,672.5L1353.8,668.0L1354.4,661.0L1355.7,660.0L1356.9,659.5L1357.6,657.8L1358.2,661.0L1359.5,662.5L1360.1,658.2L1361.0,658.2L1361.4,654.0L1362.7,655.3L1363.1,657.8L1364.6,658.2L1366.5,656.2L1368.4,654.4L1369.7,653.1L1371.0,655.3L1372.0,657.4L1372.5,660.0L1373.8,661.3L1374.2,670.6L1375.1,672.5L1375.4,678.2L1376.3,685.2L1377.1,691.0L1378.0,696.7L1378.9,698.0L1379.6,704.4L1380.5,708.8L1381.4,715.9L1382.2,722.9L1384.4,723.8L1386.3,727.0L1387.6,724.8L1388.8,723.9L1392.0,722.5L1393.9,720.7L1395.8,719.4L1397.5,718.0L1399.0,719.9L1400.3,721.0L1402.2,722.9L1403.9,725.4L1404.8,728.6L1405.2,736.9L1406.7,736.3L1408.2,734.7L1409.0,736.9L1409.9,736.9L1411.1,731.2L1412.2,726.3L1414.3,722.2L1416.6,717.8L1417.3,709.1L1418.2,710.1L1419.2,708.8L1419.8,709.1L1420.7,717.1L1422.0,721.0L1423.3,724.2L1425.2,728.0L1426.7,730.5L1427.3,732.4L1428.1,739.8L1430.9,741.4L1434.1,743.9L1438.6,743.9L1439.8,743.0L1441.8,742.6L1442.7,742.0L1452.0,742.0L1452.9,741.1L1454.9,741.0L1456.4,739.1L1458.3,741.4L1459.6,742.0L1463.4,742.0L1464.1,743.9L1465.0,748.0L1469.2,748.0L1470.5,747.1L1472.4,746.9L1475.6,743.9L1478.1,743.3L1478.8,742.0L1482.6,742.0L1483.5,741.0L1485.8,743.3L1489.6,747.7L1492.8,750.0L1527.9,750.0L1528.5,749.0L1536.5,749.0L1537.2,750.0L1542.9,750.0L1543.5,749.0L1549.5,749.0L1550.2,750.0L1560.0,750.0L1560.8,750.3L1604.9,750.3L1605.8,749.1L1611.4,749.1L1612.6,748.2L1619.8,748.2L1620.7,747.3L1622.7,747.3L1623.9,748.2L1624.8,749.1L1629.3,749.1L1629.9,750.3L1689.7,750.3L1690.6,749.1L1699.2,749.1L1700.1,750.3L1708.5,750.3L1709.3,749.1L1717.4,749.1L1718.0,750.3L1794.8,750.3L1795.7,749.1L1798.9,749.1L1800.1,748.2L1804.9,748.2L1806.1,749.1L1807.3,749.1L1807.9,750.3L1857.6,750.3L1858.5,749.1L1865.3,749.1L1865.9,750.3L1926.3,750.3L1927.5,749.1L1929.9,748.2L1934.3,747.6L1937.3,745.8L1938.8,745.2L1944.2,745.2L1945.4,744.3L1948.3,744.3L1950.1,745.8L1951.3,747.3L1956.1,747.3L1957.3,748.2L1961.1,748.2L1962.0,749.1L1963.2,748.2L1970.1,748.2L1971.0,746.4L1972.7,747.3L1973.9,748.2L1979.0,748.2L1979.9,747.3L1981.7,747.3L1982.9,748.2L1984.0,749.1L1990.0,749.1L1990.9,750.3L2012.6,750.3L2013.5,749.1L2018.6,749.1L2019.2,748.5L2020.0,747.7L2037.9,747.7L2038.2,744.8L2039.8,744.8L2041.4,746.7L2043.0,746.7L2043.6,745.7L2044.5,747.0L2045.9,746.7L2047.4,744.8L2048.7,746.1L2050.4,747.7L2052.9,747.7L2053.4,748.9L2065.3,748.9L2066.2,750.0L2088.9,750.0L2090.2,748.0L2098.1,747.7L2098.8,746.7L2100.6,746.7L2101.4,747.7L2103.5,747.7L2104.4,746.7L2108.3,746.7L2109.3,747.7L2110.3,747.7L2111.2,748.9L2117.6,748.9L2118.5,747.7L2119.2,744.2L2121.0,743.5L2122.7,740.6L2124.0,738.4L2124.6,734.0L2125.2,726.1L2126.5,725.0L2128.4,720.6L2131.0,715.5L2132.9,711.3L2134.4,706.8L2135.4,709.1L2136.1,712.3L2136.7,719.7L2138.0,721.5L2139.9,723.5L2141.2,725.7L2142.4,728.2L2143.7,730.4L2144.0,741.9L2147.3,741.6L2148.6,739.7L2150.1,741.6L2152.7,742.9L2157.8,742.9L2159.0,745.2L2160.3,746.7L2165.4,747.0L2166.4,747.7L2169.9,747.7L2170.5,746.7L2171.1,747.7L2175.9,747.7L2176.6,747.0L2178.4,746.7L2179.4,745.7L2180.5,747.4L2181.7,747.7L2185.6,747.7L2186.5,748.9L2189.6,748.9L2190.3,750.0L2212.0,750.0L2212.6,748.9L2221.5,748.9L2222.2,750.0L2260.8,750.0L2261.5,748.9L2267.7,748.9L2268.2,750.0L2278.9,750.0L2279.7,748.9L2289.4,748.9L2290.0,750.0L2320.0,750.0L2320.4,750.3L2497.7,750.3L2498.6,749.1L2508.5,749.1L2509.0,750.3L2521.0,750.3L2521.8,749.1L2523.3,748.2L2527.2,748.2L2528.1,747.3L2531.1,747.3L2531.7,746.4L2532.3,748.2L2534.6,748.2L2535.5,749.1L2541.2,749.1L2541.8,750.3L2558.8,750.3L2559.6,749.1L2566.8,749.1L2567.4,748.2L2568.6,749.1L2571.2,749.1L2572.1,748.2L2576.3,748.2L2577.2,749.1L2581.4,749.1L2582.0,750.3L2659.9,750.3L2660.8,749.1L2662.6,749.1L2663.5,748.2L2669.5,748.2L2670.4,749.1L2671.8,749.1L2672.4,748.2L2673.6,749.1L2678.4,749.1L2679.0,750.3L2693.0,750.3L2693.9,749.1L2702.5,749.1L2703.1,750.3L2706.1,750.3L2707.0,749.1L2711.7,749.1L2712.6,748.2L2716.2,748.2L2717.1,745.2L2723.6,745.2L2725.1,746.4L2726.9,747.3L2728.1,748.2L2731.1,748.2L2732.0,749.1L2739.4,749.1L2740.0,750.3L2747.1,750.3L2748.0,749.1L2757.3,749.1L2757.9,750.3L2924.5,750.3L2925.4,749.1L2929.9,749.1L2930.5,748.2L2931.4,749.1L2936.4,749.1L2938.7,749.1L2939.3,750.3L2969.9,750.3L2970.8,749.1L2976.5,749.1L2977.1,750.3L2998.8,750.3L2999.7,749.1L3008.6,749.1L3009.2,750.3L3011.9,750.3L3012.8,749.1L3022.6,749.1L3023.2,750.3L3035.7,750.3L3036.6,749.1L3045.5,749.1L3046.1,750.3L3084.8,750.3L3085.7,749.1L3100.0,749.1L3101.2,748.2L3104.2,748.2L3105.4,747.3L3108.3,747.3L3109.2,746.4L3111.3,746.4L3112.2,747.3L3114.3,747.3L3115.5,748.2L3116.7,749.7L3117.3,750.3L3157.7,750.3L3158.9,749.1L3160.4,748.2L3163.4,748.2L3164.3,747.3L3167.3,747.3L3168.5,748.2L3169.3,749.1L3174.4,749.1L3175.3,750.3L3179.8,750.3L3181.0,748.8L3182.7,747.3L3189.6,747.3L3191.1,748.8L3192.3,750.3L3194.6,750.3L3195.5,749.1L3202.1,749.1L3203.0,745.2L3210.1,745.2L3211.3,744.3L3212.5,745.2L3214.0,746.4L3216.4,747.3L3217.3,745.2L3218.5,745.2L3219.0,747.3L3220.2,747.3L3220.8,745.2L3222.0,745.2L3222.6,748.2L3226.8,748.2L3228.0,749.1L3229.8,749.1L3230.4,750.3L3241.7,750.3L3242.6,749.1L3247.6,749.1L3248.5,748.2L3251.8,748.2L3252.7,749.1L3257.7,749.1L3258.3,750.3L3269.6,750.3L3270.5,749.1L3279.5,749.1L3280.1,750.3L3326.5,750.3L3327.4,749.1L3330.4,749.1L3331.5,748.2L3342.9,748.2L3343.8,747.3L3345.8,747.3L3346.7,748.2L3347.9,748.2L3348.8,747.3L3351.8,747.3L3352.4,746.4L3353.6,747.3L3354.8,748.2L3359.8,748.2L3360.7,747.3L3362.2,746.4L3364.3,746.4L3365.2,745.2L3372.6,745.2L3373.8,743.5L3375.3,743.5L3376.5,745.2L3377.7,746.4L3381.5,746.4L3382.7,747.3L3383.6,749.1L3387.5,749.1L3388.4,748.2L3391.7,748.2L3392.6,749.1L3394.9,749.1L3395.8,748.2L3401.5,748.2L3402.1,747.3L3403.0,748.2L3408.3,748.2L3409.5,749.1L3411.3,749.1L3411.9,750.3L3411.9,750.3Z" fill="#1A9850" shape-rendering="crispEdges"/>
<rect x="458" y="749.80" width="3096" height="1.3" fill="#000"/>
<rect x="149" y="747.90" width="10" height="4.2" fill="#333"/>
<rect x="149" y="705.25" width="10" height="4.2" fill="#333"/>
<rect x="149" y="662.60" width="10" height="4.2" fill="#333"/>
<rect x="149" y="619.95" width="10" height="4.2" fill="#333"/>
<text id="s3" x="307.80" y="683.48" font-size="36.67" fill="#1a1a1a" text-anchor="middle" textLength="79.31" lengthAdjust="spacingAndGlyphs">6 PF</text>
<path d="M580.0,928.3L580.0,928.3L600.8,928.3L601.7,927.1L618.7,927.1L619.9,926.2L622.3,926.2L623.5,925.0L626.4,925.0L627.6,924.1L629.4,924.1L630.6,925.0L633.0,925.0L634.2,926.2L636.0,926.2L636.5,928.3L644.0,928.3L644.9,927.1L651.4,927.1L652.3,925.0L653.8,925.0L654.7,926.2L657.4,926.2L658.3,924.1L659.8,924.1L660.7,922.9L662.1,922.9L663.0,924.1L664.5,924.1L665.4,922.1L668.4,922.1L669.3,924.1L670.8,923.2L674.6,923.2L675.8,925.0L685.7,925.0L686.5,924.1L688.6,924.1L689.5,923.2L690.7,924.1L693.1,925.0L695.5,925.0L696.7,926.2L700.5,926.2L701.1,927.1L702.6,927.1L703.8,925.0L705.6,924.1L707.1,922.9L711.0,922.9L711.8,922.1L713.0,922.9L715.4,922.9L716.3,925.0L718.7,925.0L719.9,926.2L726.4,926.2L727.3,925.0L729.7,925.0L730.6,924.1L731.5,926.2L733.6,926.2L734.8,924.1L735.7,922.9L736.8,924.1L738.9,924.1L739.8,925.0L741.6,925.0L742.5,924.1L744.3,924.1L745.2,926.2L748.5,926.2L749.3,925.0L752.6,925.0L753.5,926.2L768.1,926.2L769.3,927.1L770.5,927.1L771.1,928.3L776.4,928.3L777.3,927.1L779.4,927.1L780.3,926.2L784.8,926.2L786.0,925.0L787.1,924.1L788.3,925.0L790.4,924.1L791.6,924.1L792.8,922.9L794.0,925.0L796.7,925.0L797.9,926.2L803.2,926.2L804.4,925.0L806.8,925.0L807.7,924.1L808.9,925.0L811.0,925.0L812.1,926.2L836.5,926.2L837.7,925.0L838.9,924.1L840.4,922.9L841.6,922.1L843.1,922.1L844.3,922.9L846.1,924.1L847.3,925.0L848.5,926.2L860.4,926.2L861.2,924.1L862.7,922.9L865.1,922.1L871.1,922.1L872.3,922.9L873.5,925.0L876.4,925.0L877.6,926.2L892.5,926.2L893.4,925.0L895.5,925.0L896.4,924.1L897.6,925.0L898.5,926.2L903.8,926.2L905.0,927.1L917.8,927.1L918.7,926.2L921.7,926.2L922.6,927.1L925.8,927.1L926.7,926.2L930.3,926.2L931.2,927.1L935.7,927.1L936.2,926.2L937.4,927.1L949.6,927.1L950.5,926.2L964.5,926.2L965.7,927.1L972.3,927.1L972.9,928.3L975.2,928.3L976.1,927.1L990.1,927.1L991.3,926.2L992.5,925.0L999.6,925.0L1000.8,926.2L1003.8,926.2L1004.7,928.3L1024.6,928.3L1025.5,927.1L1026.4,926.2L1034.2,926.2L1035.4,927.1L1036.0,928.3L1043.7,928.3L1044.6,927.1L1046.1,926.2L1075.5,926.2L1076.4,927.1L1080.0,927.1L1080.9,926.2L1086.5,926.2L1087.4,925.0L1089.5,925.0L1090.4,926.2L1096.4,926.2L1097.3,927.1L1099.6,927.1L1100.2,928.3L1109.8,928.3L1110.7,927.1L1130.0,927.1L1130.6,926.2L1131.5,927.1L1132.7,926.2L1137.1,926.2L1138.3,925.0L1141.3,925.0L1142.5,926.2L1146.1,926.2L1147.0,927.1L1147.9,928.3L1150.5,928.3L1151.4,927.1L1160.4,927.1L1161.0,928.3L1177.6,928.3L1178.8,927.1L1181.2,926.2L1189.5,926.2L1190.7,927.1L1205.0,927.1L1206.2,926.2L1208.6,926.2L1209.5,925.0L1218.4,925.0L1219.3,926.2L1222.3,926.2L1223.5,925.0L1224.6,924.1L1225.8,925.0L1230.6,925.0L1231.8,926.2L1255.6,926.2L1256.5,924.1L1258.6,924.1L1259.5,925.0L1260.0,925.1L1264.5,925.1L1266.1,923.2L1267.4,924.1L1269.9,923.8L1272.1,922.2L1274.0,923.8L1276.3,926.4L1277.2,923.2L1279.1,921.9L1282.3,921.3L1284.0,920.9L1284.5,919.4L1289.6,919.1L1290.6,917.8L1292.1,917.5L1293.4,915.9L1294.7,917.2L1297.0,917.7L1298.9,916.8L1300.8,920.6L1302.7,920.9L1304.0,920.0L1305.3,920.3L1306.6,920.9L1308.2,919.4L1311.7,919.1L1312.0,915.3L1313.3,913.2L1314.8,912.7L1316.4,910.2L1318.0,904.7L1319.3,900.9L1320.2,898.3L1321.5,897.1L1322.5,894.2L1327.6,894.1L1328.2,891.3L1329.1,890.7L1330.4,889.0L1331.0,892.3L1332.1,894.5L1333.3,896.2L1334.2,892.3L1336.5,891.9L1338.4,889.8L1341.0,888.8L1342.3,886.8L1343.2,884.3L1343.9,881.7L1344.8,878.6L1345.2,862.0L1346.1,858.1L1347.4,849.9L1348.3,842.2L1349.3,834.5L1350.3,826.3L1351.6,826.0L1352.1,821.2L1353.1,818.6L1353.8,810.3L1354.6,803.0L1355.4,793.4L1356.3,790.5L1357.6,789.9L1358.5,789.0L1359.7,788.9L1360.1,781.0L1361.0,780.3L1361.3,772.1L1362.0,775.0L1363.6,775.2L1364.6,774.0L1365.6,772.9L1365.9,790.5L1366.9,791.2L1367.4,788.0L1368.4,789.3L1369.7,789.9L1370.1,775.2L1370.7,775.2L1371.0,784.8L1371.9,785.4L1372.2,800.7L1372.9,809.7L1373.8,819.9L1374.8,827.5L1375.6,835.8L1376.3,846.7L1377.3,848.6L1378.6,847.9L1379.3,856.2L1380.5,857.5L1380.9,869.6L1381.2,884.3L1382.2,892.6L1382.7,893.6L1384.0,893.9L1384.4,892.3L1385.6,891.9L1386.3,894.5L1387.6,897.1L1388.6,899.2L1389.1,903.4L1390.1,904.1L1390.7,903.0L1392.0,905.1L1393.3,904.1L1394.6,904.7L1395.8,903.8L1397.1,905.1L1400.9,905.1L1401.8,903.8L1402.9,905.1L1403.9,904.1L1405.2,906.6L1406.4,909.8L1407.3,913.0L1408.6,911.7L1409.5,906.6L1410.8,900.5L1411.1,897.9L1411.8,900.9L1413.1,900.2L1414.3,898.3L1415.9,898.1L1417.5,898.3L1418.8,899.6L1419.4,902.2L1420.3,907.9L1421.4,912.4L1422.0,917.8L1423.9,919.1L1425.2,921.3L1427.1,923.2L1428.4,921.9L1429.4,922.2L1429.9,923.8L1431.2,923.8L1431.6,921.9L1432.8,922.2L1433.7,923.2L1437.6,923.2L1438.6,920.9L1440.1,922.9L1441.8,923.2L1442.4,924.1L1443.7,924.1L1444.3,920.9L1446.0,920.0L1447.2,921.3L1448.8,923.8L1450.7,924.1L1452.0,923.2L1453.6,923.2L1455.2,925.1L1456.2,927.3L1457.1,926.4L1462.8,926.1L1463.8,925.1L1467.3,925.1L1468.2,926.1L1473.6,926.1L1474.5,925.1L1475.6,926.1L1477.5,926.1L1478.8,925.1L1480.4,924.1L1482.6,924.1L1483.9,925.1L1485.1,926.1L1509.4,926.1L1510.3,927.0L1515.7,927.0L1516.4,928.0L1521.5,928.0L1522.5,927.0L1532.3,927.0L1533.2,928.0L1560.0,928.0L1560.8,928.3L1565.6,928.3L1566.5,927.1L1569.2,927.1L1570.4,926.2L1578.1,926.2L1579.3,927.1L1581.7,927.1L1582.3,928.3L1583.2,927.1L1591.2,927.1L1591.8,928.3L1609.6,928.3L1610.5,927.1L1612.6,926.2L1616.8,926.2L1617.7,925.3L1619.2,926.2L1623.3,926.2L1624.5,927.1L1626.3,927.1L1627.2,926.2L1629.9,926.2L1630.8,927.1L1646.5,927.1L1647.7,926.2L1655.5,926.2L1656.7,927.1L1664.4,927.1L1665.0,928.3L1748.9,928.3L1749.8,927.1L1753.1,927.1L1754.3,926.2L1757.9,926.2L1759.0,927.1L1763.2,927.1L1763.8,928.3L1848.9,928.3L1849.8,927.1L1854.0,927.1L1854.9,926.2L1857.9,926.2L1859.0,927.1L1862.6,927.1L1863.2,926.2L1864.4,927.1L1866.5,927.1L1867.4,926.2L1881.1,926.2L1882.3,927.1L1882.9,928.3L1913.8,928.3L1914.7,927.1L1923.3,927.1L1923.9,928.3L1934.3,928.3L1935.2,927.1L1937.3,927.1L1938.2,926.2L1945.4,926.2L1946.5,927.1L1947.7,927.1L1948.3,928.3L1959.6,928.3L1960.5,927.1L1969.2,927.1L1969.8,928.3L1993.9,928.3L1994.8,927.1L2019.2,927.1L2020.0,927.3L2022.6,927.3L2023.6,926.0L2024.8,927.3L2032.8,927.3L2033.4,928.3L2035.9,928.3L2036.8,927.3L2038.9,927.0L2039.8,926.1L2045.5,926.1L2046.5,927.3L2062.7,927.3L2063.4,928.3L2087.9,928.3L2088.6,927.3L2094.6,927.3L2095.5,926.1L2099.7,926.0L2101.0,925.1L2102.3,924.5L2104.8,921.3L2106.7,921.7L2107.8,920.9L2109.3,921.7L2110.8,924.2L2112.1,926.1L2117.6,926.1L2119.2,923.2L2121.8,921.9L2122.3,916.8L2123.6,914.9L2124.3,909.2L2124.8,900.2L2126.5,897.7L2128.2,895.8L2129.7,894.5L2130.3,889.4L2131.2,882.4L2132.9,881.7L2134.2,879.8L2134.5,878.9L2135.4,881.1L2136.3,884.3L2138.0,884.7L2139.3,886.8L2140.2,884.9L2140.8,885.6L2141.2,892.3L2141.8,893.2L2142.2,899.0L2143.5,901.5L2144.4,904.7L2145.6,907.3L2146.9,910.2L2148.8,911.5L2150.1,912.1L2152.7,912.4L2154.6,914.3L2156.5,916.8L2159.0,920.0L2162.6,920.4L2164.8,922.2L2166.7,921.7L2168.6,920.4L2169.5,921.2L2172.4,921.2L2174.3,924.2L2177.5,925.1L2180.1,927.3L2192.8,927.3L2193.7,926.1L2205.6,926.1L2206.9,927.3L2207.8,928.3L2226.9,928.3L2227.9,927.3L2230.7,927.0L2231.7,926.1L2235.8,926.0L2236.6,925.1L2237.1,926.0L2241.3,926.1L2242.2,927.3L2246.4,927.3L2247.3,928.3L2263.9,928.3L2264.6,927.3L2272.6,927.3L2273.2,928.3L2275.7,928.3L2276.4,927.3L2281.5,927.3L2282.5,926.1L2289.1,926.1L2290.2,927.3L2291.7,927.3L2292.3,928.3L2295.8,928.3L2296.5,927.3L2301.6,927.3L2302.5,926.1L2306.4,926.1L2307.0,927.3L2309.8,927.3L2310.4,926.1L2311.1,927.3L2320.0,927.3L2320.4,927.1L2328.4,927.1L2329.0,928.3L2335.8,928.3L2336.7,927.1L2339.7,927.1L2340.6,926.2L2342.7,926.2L2343.6,925.0L2349.5,925.0L2350.7,926.2L2353.1,926.2L2354.0,928.3L2359.0,928.3L2359.9,927.1L2368.6,927.1L2369.2,928.3L2523.9,928.3L2524.8,927.1L2538.5,927.1L2539.4,926.2L2551.3,926.2L2551.9,925.0L2552.8,926.2L2559.9,926.2L2560.8,927.1L2564.4,927.1L2565.0,928.3L2671.0,928.3L2671.8,927.1L2674.5,927.1L2675.4,926.2L2678.7,926.2L2679.6,927.1L2683.5,927.1L2684.0,928.3L2690.0,928.3L2690.9,927.1L2692.4,926.2L2697.7,926.2L2698.9,927.1L2700.7,927.1L2701.3,928.3L2708.8,928.3L2709.6,927.1L2734.6,927.1L2735.5,926.2L2738.5,926.2L2739.4,927.1L2744.2,927.1L2744.8,928.3L2771.8,928.3L2772.7,927.1L2776.3,927.1L2777.5,926.2L2778.7,925.0L2788.2,925.0L2789.4,926.2L2790.6,927.1L2793.6,927.1L2794.2,928.3L2797.1,928.3L2798.0,927.1L2801.0,927.1L2801.9,926.2L2809.9,926.2L2810.8,927.1L2813.5,927.1L2814.1,928.3L2872.7,928.3L2873.6,927.1L2875.4,926.2L2890.3,926.2L2891.2,927.1L2904.3,927.1L2904.9,926.2L2906.1,927.1L2913.2,927.1L2913.8,928.3L2922.7,928.3L2923.6,927.1L2924.5,926.2L2934.9,926.2L2935.8,925.0L2936.4,925.0L2938.7,924.1L2940.2,925.0L2943.2,926.2L2944.0,927.1L2950.6,927.1L2951.8,926.2L2953.6,925.0L2958.0,924.1L2968.5,924.1L2969.6,925.0L2972.9,925.0L2973.8,926.2L2981.0,926.2L2982.1,925.0L2985.7,925.0L2986.9,926.2L2988.1,927.1L2991.7,927.1L2992.3,928.3L2998.8,928.3L2999.7,927.1L3002.7,926.2L3004.8,925.0L3007.7,925.0L3008.9,926.2L3013.7,926.2L3014.9,928.3L3082.1,928.3L3083.0,927.1L3085.1,926.2L3090.5,926.2L3091.1,925.3L3092.0,926.2L3111.3,926.2L3112.5,927.1L3117.3,927.1L3118.5,926.2L3119.6,925.0L3120.8,924.1L3122.6,924.1L3123.8,925.0L3127.7,925.0L3129.2,926.2L3130.7,927.1L3131.2,928.3L3135.7,928.3L3136.6,927.1L3139.6,927.1L3140.5,926.2L3150.6,926.2L3151.2,928.3L3159.5,928.3L3160.1,926.2L3170.2,926.2L3171.4,927.1L3181.2,927.1L3182.1,926.2L3185.1,926.2L3186.0,927.1L3188.1,927.1L3188.7,926.2L3189.6,927.1L3196.4,927.1L3197.0,928.3L3205.1,928.3L3206.0,927.1L3207.1,926.2L3214.9,926.2L3216.1,928.3L3225.9,928.3L3226.8,927.1L3244.6,927.1L3245.2,928.3L3249.7,928.3L3250.6,927.1L3254.2,927.1L3255.4,926.2L3264.6,926.2L3265.5,927.1L3277.4,927.1L3278.6,926.2L3279.8,925.0L3282.4,925.0L3283.9,924.1L3288.4,924.1L3289.9,925.0L3292.3,926.2L3293.5,925.0L3294.6,926.2L3298.8,926.2L3300.0,927.1L3301.8,927.1L3302.4,928.3L3319.6,928.3L3320.5,927.1L3325.6,927.1L3326.8,926.2L3330.1,926.2L3331.0,925.0L3333.0,924.1L3333.9,922.1L3339.9,922.1L3341.1,923.2L3343.5,924.1L3344.9,925.0L3346.4,926.2L3347.9,927.1L3361.3,927.1L3362.2,928.3L3371.7,928.3L3372.6,927.1L3376.8,927.1L3377.4,928.3L3383.9,928.3L3384.8,927.1L3386.3,926.2L3388.7,925.0L3391.7,925.0L3392.9,924.1L3394.6,924.1L3395.2,922.9L3396.1,924.1L3397.6,924.1L3398.8,925.0L3402.4,925.0L3403.6,926.2L3406.8,926.2L3407.4,922.9L3408.9,922.9L3409.8,924.1L3412.5,924.1L3412.8,928.3L3412.8,928.3Z" fill="#8C510A" shape-rendering="crispEdges"/>
<rect x="458" y="927.80" width="3096" height="1.3" fill="#000"/>
<rect x="149" y="925.90" width="10" height="4.2" fill="#333"/>
<rect x="149" y="883.25" width="10" height="4.2" fill="#333"/>
<rect x="149" y="840.60" width="10" height="4.2" fill="#333"/>
<rect x="149" y="797.95" width="10" height="4.2" fill="#333"/>
<text id="s4" x="308.35" y="861.73" font-size="36.67" fill="#1a1a1a" text-anchor="middle" textLength="177.32" lengthAdjust="spacingAndGlyphs">2 Div Fibro</text>
<path d="M580.0,1106.5L580.0,1106.5L598.8,1106.5L599.6,1105.3L617.2,1105.3L618.1,1104.4L623.2,1104.4L623.8,1103.5L624.6,1104.4L628.2,1104.4L629.1,1105.3L639.5,1105.3L640.4,1104.4L645.5,1104.4L646.4,1105.3L650.5,1105.3L651.1,1106.5L658.9,1106.5L659.8,1105.3L667.5,1105.3L668.1,1106.5L672.9,1106.5L673.8,1105.3L681.2,1105.3L681.8,1104.4L682.7,1105.3L684.8,1105.3L685.7,1104.4L688.6,1104.4L689.5,1105.3L697.6,1105.3L698.2,1106.5L702.9,1106.5L703.8,1105.3L709.8,1105.3L710.4,1106.5L721.7,1106.5L722.6,1105.3L730.6,1105.3L731.2,1106.5L742.8,1106.5L743.7,1105.3L749.6,1105.3L750.5,1104.4L753.8,1104.4L754.7,1105.3L762.7,1105.3L763.9,1104.4L766.0,1103.5L769.9,1103.5L771.1,1104.4L774.9,1104.4L775.8,1106.5L781.8,1106.5L782.7,1105.3L790.7,1105.3L791.3,1106.5L802.0,1106.5L802.9,1105.3L806.2,1104.4L807.7,1103.5L813.6,1103.5L815.1,1104.4L827.6,1104.4L828.2,1103.5L829.1,1104.4L836.5,1104.4L837.7,1105.3L838.6,1106.5L855.9,1106.5L856.8,1105.3L861.5,1105.3L862.1,1106.5L879.7,1106.5L880.6,1105.3L889.5,1105.3L890.7,1104.4L893.1,1104.4L893.7,1103.5L894.9,1104.4L899.0,1104.4L900.2,1105.3L912.7,1105.3L913.3,1106.5L919.0,1106.5L919.9,1105.3L934.8,1105.3L936.0,1104.4L940.7,1104.4L941.6,1103.5L944.6,1103.5L945.5,1104.4L954.4,1104.4L955.6,1103.5L958.6,1103.5L959.8,1104.4L962.4,1104.4L963.3,1105.3L966.3,1105.3L966.9,1106.5L974.6,1106.5L975.5,1105.3L1006.2,1105.3L1006.8,1106.5L1013.6,1106.5L1014.5,1105.3L1020.5,1105.3L1021.1,1106.5L1047.9,1106.5L1048.8,1105.3L1060.4,1105.3L1061.0,1106.5L1069.9,1106.5L1070.8,1105.3L1089.5,1105.3L1090.7,1104.4L1097.3,1104.4L1098.5,1105.3L1113.3,1105.3L1114.5,1104.4L1123.5,1104.4L1124.6,1105.3L1127.0,1105.3L1127.6,1106.5L1131.8,1106.5L1132.7,1105.3L1136.0,1105.3L1137.1,1104.4L1138.9,1104.4L1140.1,1103.5L1142.5,1103.5L1143.7,1104.4L1146.7,1104.4L1147.9,1105.3L1152.3,1105.3L1152.9,1106.5L1181.8,1106.5L1182.7,1105.3L1186.5,1105.3L1187.4,1104.4L1189.5,1104.4L1190.4,1105.3L1199.6,1105.3L1200.2,1106.5L1214.8,1106.5L1215.7,1105.3L1219.3,1105.3L1220.5,1104.4L1232.7,1104.4L1233.6,1103.5L1234.8,1104.4L1243.1,1104.4L1244.3,1105.3L1252.0,1105.3L1252.6,1106.5L1256.5,1106.5L1257.4,1105.3L1259.8,1105.3L1260.0,1105.2L1268.3,1105.2L1269.6,1103.9L1282.7,1103.9L1283.6,1105.2L1286.1,1105.2L1287.0,1103.9L1288.1,1101.0L1290.6,1100.5L1292.9,1099.1L1294.4,1098.6L1295.7,1097.8L1297.6,1098.0L1298.3,1099.9L1300.8,1099.9L1302.3,1097.8L1303.4,1098.8L1310.4,1098.8L1311.4,1097.8L1312.6,1098.8L1313.6,1099.9L1314.8,1099.1L1316.8,1098.8L1318.9,1096.6L1319.9,1096.0L1324.4,1096.0L1325.7,1095.0L1326.6,1094.8L1327.6,1091.4L1329.1,1082.9L1330.8,1082.6L1332.4,1081.0L1334.0,1079.5L1334.6,1076.9L1335.9,1076.5L1337.2,1075.0L1338.1,1075.6L1339.3,1077.8L1340.1,1082.0L1341.6,1080.7L1343.5,1079.1L1344.8,1079.7L1345.7,1079.1L1347.8,1078.8L1348.6,1077.2L1349.9,1075.6L1350.3,1064.4L1351.2,1056.1L1352.1,1050.4L1353.4,1043.4L1354.4,1031.9L1355.4,1017.2L1356.3,1013.4L1357.6,1008.9L1358.9,1008.5L1359.5,1003.8L1360.3,998.1L1360.8,990.4L1361.8,986.9L1363.1,987.5L1364.0,989.4L1364.6,991.7L1365.6,994.3L1366.9,996.2L1367.4,1000.0L1369.1,998.1L1369.9,996.8L1370.5,993.0L1371.0,998.1L1371.9,998.7L1372.2,1003.8L1373.0,1004.5L1373.3,1018.5L1374.2,1023.0L1375.4,1028.7L1376.3,1034.4L1377.1,1046.6L1378.0,1051.7L1378.9,1054.8L1379.9,1058.0L1380.5,1065.0L1381.4,1070.8L1382.2,1078.4L1383.1,1087.7L1387.6,1088.0L1389.1,1089.9L1390.7,1092.5L1391.4,1094.0L1392.7,1093.7L1393.7,1091.2L1395.5,1089.0L1396.7,1088.9L1397.5,1085.5L1398.4,1080.0L1402.9,1080.0L1404.8,1082.3L1405.7,1084.8L1406.7,1087.7L1408.2,1090.6L1409.5,1093.5L1410.5,1095.0L1414.3,1095.0L1416.6,1093.1L1420.5,1093.1L1421.4,1096.0L1423.3,1097.6L1425.2,1098.8L1427.1,1100.1L1429.6,1102.0L1431.6,1102.0L1433.5,1100.1L1443.0,1100.1L1446.2,1101.7L1449.4,1102.9L1452.0,1103.7L1454.5,1105.0L1468.5,1105.0L1469.2,1106.2L1476.8,1106.2L1477.5,1105.0L1484.5,1105.0L1485.1,1106.2L1490.9,1106.2L1491.5,1105.0L1501.3,1105.0L1502.0,1106.2L1509.7,1106.2L1510.4,1105.0L1519.6,1105.0L1520.2,1106.2L1529.8,1106.2L1530.4,1105.0L1542.5,1105.0L1543.2,1106.2L1554.9,1106.2L1555.5,1105.0L1560.0,1105.0L1560.8,1105.3L1564.4,1105.3L1565.0,1106.5L1584.6,1106.5L1585.5,1105.3L1602.5,1105.3L1603.1,1106.5L1612.9,1106.5L1613.8,1105.3L1619.5,1105.3L1620.1,1106.5L1637.0,1106.5L1637.9,1105.3L1655.5,1105.3L1656.1,1106.5L1659.9,1106.5L1660.8,1105.3L1662.6,1104.4L1665.0,1103.2L1667.4,1102.0L1668.9,1103.2L1671.0,1104.4L1672.7,1105.3L1701.6,1105.3L1702.2,1106.5L1751.9,1106.5L1752.8,1105.3L1756.7,1105.3L1757.9,1104.4L1759.6,1103.5L1761.4,1104.4L1765.0,1104.4L1766.2,1105.3L1778.1,1105.3L1778.7,1106.5L1807.9,1106.5L1808.8,1105.3L1814.4,1105.3L1815.3,1104.4L1816.2,1105.3L1833.2,1105.3L1833.8,1106.5L1932.9,1106.5L1933.8,1105.3L1940.6,1105.3L1941.5,1104.4L1942.4,1105.3L1944.2,1105.3L1945.1,1104.4L1946.0,1105.3L1954.3,1105.3L1954.9,1106.5L1971.5,1106.5L1972.4,1105.3L1977.5,1105.3L1978.7,1104.4L1982.9,1104.4L1984.0,1105.3L1992.4,1105.3L1993.0,1106.5L1994.8,1106.5L1995.7,1105.3L2004.3,1105.3L2004.9,1106.5L2006.7,1106.5L2007.6,1105.3L2019.2,1105.3L2020.0,1105.2L2021.9,1105.2L2022.6,1106.5L2024.8,1106.5L2025.4,1105.2L2031.7,1105.2L2032.5,1103.9L2033.8,1105.2L2055.7,1105.2L2057.0,1103.3L2062.7,1103.3L2064.0,1104.3L2066.6,1104.3L2067.4,1105.2L2072.6,1105.2L2073.6,1104.3L2082.5,1104.3L2083.1,1105.2L2085.7,1105.2L2086.6,1104.3L2093.7,1104.3L2094.4,1103.1L2095.3,1104.3L2095.9,1103.3L2097.6,1103.1L2099.3,1100.1L2106.7,1100.1L2108.3,1103.1L2110.6,1105.2L2116.9,1105.2L2117.6,1104.2L2120.1,1103.9L2121.0,1102.3L2122.0,1094.4L2123.1,1089.3L2124.3,1084.2L2125.2,1079.1L2126.5,1076.3L2128.4,1074.0L2129.9,1071.4L2131.2,1067.3L2132.9,1065.0L2134.4,1063.1L2135.2,1067.6L2136.1,1071.4L2137.1,1069.9L2138.4,1071.2L2139.9,1070.8L2140.3,1067.2L2140.9,1067.6L2141.8,1072.7L2142.7,1073.3L2143.7,1076.5L2144.7,1084.2L2146.3,1085.5L2147.3,1088.0L2148.8,1089.3L2150.4,1092.5L2151.0,1098.2L2153.7,1098.0L2154.9,1097.2L2157.1,1100.1L2159.3,1103.3L2168.0,1103.3L2169.0,1102.3L2173.7,1102.3L2174.6,1103.3L2179.4,1103.3L2180.5,1104.3L2182.6,1104.3L2185.2,1106.5L2198.8,1106.5L2199.6,1105.2L2204.7,1105.2L2205.6,1104.2L2212.6,1104.2L2213.6,1105.2L2217.4,1105.2L2218.3,1106.5L2222.8,1106.5L2223.6,1105.2L2233.0,1105.2L2233.6,1104.2L2236.6,1104.2L2237.2,1105.2L2240.9,1105.2L2241.6,1104.2L2243.5,1104.2L2244.1,1105.2L2246.8,1105.2L2247.4,1104.2L2260.4,1104.2L2261.3,1105.2L2263.6,1105.2L2264.4,1106.5L2271.9,1106.5L2272.6,1105.2L2286.3,1105.2L2287.2,1104.2L2289.1,1103.9L2289.8,1103.1L2295.5,1103.1L2296.1,1104.2L2301.2,1104.2L2302.1,1106.5L2309.8,1106.5L2310.6,1105.2L2312.1,1104.2L2317.2,1104.2L2317.8,1103.1L2320.0,1103.3L2320.4,1104.4L2321.0,1105.3L2326.3,1105.3L2326.9,1106.5L2329.9,1106.5L2330.8,1105.3L2358.5,1105.3L2359.0,1106.5L2368.0,1106.5L2368.9,1105.3L2375.7,1105.3L2376.3,1106.5L2409.6,1106.5L2410.5,1105.3L2423.9,1105.3L2424.5,1104.4L2425.4,1105.3L2429.0,1105.3L2429.6,1104.4L2430.8,1105.3L2444.8,1105.3L2446.0,1104.4L2453.7,1104.4L2454.3,1103.5L2455.2,1104.4L2462.6,1104.4L2463.8,1105.3L2478.1,1105.3L2479.0,1104.4L2481.7,1104.4L2482.6,1105.3L2489.4,1105.3L2490.0,1106.5L2496.0,1106.5L2496.8,1105.3L2501.9,1105.3L2502.5,1104.4L2503.4,1105.3L2511.4,1105.3L2512.0,1106.5L2518.9,1106.5L2519.8,1105.3L2528.7,1105.3L2529.3,1106.5L2540.6,1106.5L2541.5,1105.3L2545.4,1105.3L2546.5,1104.4L2551.0,1104.4L2551.9,1105.3L2565.0,1105.3L2566.2,1104.4L2568.3,1104.4L2569.2,1103.5L2571.0,1103.5L2571.8,1104.4L2577.8,1104.4L2578.7,1105.3L2591.8,1105.3L2592.4,1104.4L2593.6,1105.3L2610.8,1105.3L2611.7,1104.4L2614.4,1104.4L2615.3,1105.3L2620.4,1105.3L2621.0,1106.5L2629.9,1106.5L2630.8,1105.3L2646.2,1105.3L2647.1,1104.4L2650.1,1104.4L2650.7,1103.5L2651.9,1104.4L2656.1,1104.4L2657.3,1105.3L2659.0,1105.3L2659.6,1106.5L2668.6,1106.5L2669.5,1105.3L2683.5,1105.3L2684.0,1106.5L2687.9,1106.5L2688.8,1105.3L2699.8,1105.3L2700.7,1104.4L2714.7,1104.4L2715.6,1103.5L2722.1,1103.5L2723.3,1104.4L2725.7,1104.4L2726.9,1105.3L2728.1,1106.5L2729.6,1106.5L2730.5,1105.3L2746.5,1105.3L2747.1,1106.5L2755.5,1106.5L2756.4,1105.3L2765.3,1105.3L2765.9,1106.5L2770.7,1106.5L2771.5,1105.3L2779.3,1105.3L2779.9,1104.4L2780.8,1105.3L2809.9,1105.3L2810.8,1104.4L2818.9,1104.4L2819.8,1105.3L2821.8,1105.3L2822.4,1106.5L2832.9,1106.5L2833.8,1105.3L2837.6,1105.3L2838.8,1104.4L2847.1,1104.4L2848.3,1105.3L2868.6,1105.3L2869.2,1106.5L2870.4,1106.5L2871.2,1105.3L2874.5,1105.3L2875.7,1104.4L2883.5,1104.4L2884.6,1105.3L2887.3,1105.3L2887.9,1106.5L2893.6,1106.5L2894.5,1105.3L2909.6,1105.3L2910.5,1104.4L2916.2,1104.4L2917.4,1105.3L2921.0,1105.3L2921.5,1106.5L2925.7,1106.5L2926.6,1105.3L2936.4,1105.3L2949.1,1105.3L2950.0,1104.4L2956.0,1104.4L2956.8,1103.5L2958.3,1103.5L2959.2,1104.4L2960.7,1105.3L2963.1,1105.3L2963.7,1104.4L2964.9,1105.3L2986.3,1105.3L2986.9,1106.5L2993.2,1106.5L2994.0,1105.3L2995.2,1104.4L3000.6,1104.4L3001.8,1103.2L3006.5,1103.2L3007.4,1102.3L3008.9,1102.3L3009.8,1103.2L3013.7,1103.2L3014.6,1102.3L3015.5,1103.2L3016.7,1105.3L3028.0,1105.3L3028.9,1104.4L3029.8,1103.2L3031.0,1104.4L3040.5,1104.4L3041.7,1103.2L3048.8,1103.2L3049.7,1102.3L3050.9,1103.2L3052.4,1104.4L3057.1,1104.4L3058.3,1105.3L3059.2,1106.5L3065.8,1106.5L3066.7,1105.3L3084.5,1105.3L3085.7,1104.4L3097.9,1104.4L3098.8,1105.3L3113.7,1105.3L3114.9,1104.4L3117.3,1104.4L3118.2,1103.2L3119.0,1102.3L3120.2,1103.2L3122.0,1103.2L3122.9,1102.3L3123.8,1103.2L3127.7,1103.2L3128.6,1104.4L3129.8,1105.3L3143.5,1105.3L3144.0,1106.5L3159.8,1106.5L3160.7,1105.3L3167.3,1105.3L3167.9,1106.5L3179.8,1106.5L3180.7,1105.3L3218.5,1105.3L3219.0,1106.5L3248.8,1106.5L3249.7,1105.3L3255.7,1105.3L3256.5,1104.4L3258.6,1104.4L3259.5,1105.3L3271.4,1105.3L3272.3,1104.4L3274.4,1104.4L3275.3,1105.3L3277.4,1105.3L3278.3,1104.4L3280.4,1104.4L3281.2,1105.3L3282.4,1104.4L3283.9,1103.2L3286.3,1102.3L3289.9,1101.1L3293.5,1101.1L3295.2,1102.3L3298.2,1103.2L3301.2,1104.4L3310.7,1104.4L3311.9,1103.2L3316.1,1103.2L3317.3,1104.4L3319.6,1104.4L3320.5,1105.3L3332.1,1105.3L3333.3,1104.4L3335.1,1103.2L3339.0,1103.2L3339.9,1102.3L3342.9,1102.3L3344.0,1103.2L3348.8,1103.2L3350.0,1104.4L3352.4,1104.4L3353.3,1105.3L3362.8,1105.3L3363.7,1103.2L3365.8,1102.3L3367.3,1101.1L3368.8,1100.3L3373.2,1100.3L3374.4,1102.3L3376.8,1102.3L3377.7,1101.1L3378.9,1102.3L3381.5,1102.3L3382.7,1103.2L3386.3,1103.2L3387.2,1102.3L3388.4,1103.2L3390.5,1103.2L3391.7,1104.4L3397.6,1104.4L3398.5,1105.3L3403.0,1105.3L3403.9,1104.4L3410.7,1104.4L3411.0,1106.5L3411.0,1106.5Z" fill="#F46D43" shape-rendering="crispEdges"/>
<rect x="458" y="1106.00" width="3096" height="1.3" fill="#000"/>
<rect x="149" y="1104.10" width="10" height="4.2" fill="#333"/>
<rect x="149" y="1061.45" width="10" height="4.2" fill="#333"/>
<rect x="149" y="1018.80" width="10" height="4.2" fill="#333"/>
<rect x="149" y="976.15" width="10" height="4.2" fill="#333"/>
<text id="s5" x="308.40" y="1039.97" font-size="36.67" fill="#1a1a1a" text-anchor="middle" textLength="80.88" lengthAdjust="spacingAndGlyphs">0 RF</text>
<path d="M580.0,1284.4L580.0,1284.4L599.6,1284.4L600.5,1283.2L606.8,1283.2L607.4,1284.4L608.9,1284.4L609.8,1283.2L620.5,1283.2L621.7,1282.3L625.5,1282.3L626.4,1283.2L627.6,1282.3L629.1,1283.2L639.5,1283.2L640.4,1282.3L645.5,1282.3L646.7,1283.2L649.6,1283.2L650.2,1284.4L668.7,1284.4L669.6,1283.2L676.7,1283.2L677.3,1284.4L688.9,1284.4L689.8,1283.2L697.9,1283.2L698.5,1284.4L705.6,1284.4L706.5,1283.2L711.0,1283.2L711.8,1282.3L715.4,1282.3L716.3,1283.2L719.9,1283.2L720.5,1284.4L727.0,1284.4L727.9,1283.2L731.8,1283.2L732.4,1282.3L733.3,1283.2L740.7,1283.2L741.3,1284.4L743.4,1284.4L744.3,1283.2L755.6,1283.2L756.2,1284.4L761.8,1284.4L762.7,1283.2L772.9,1283.2L773.5,1284.4L778.5,1284.4L779.4,1283.2L789.5,1283.2L790.1,1284.4L793.1,1284.4L794.0,1283.2L796.7,1283.2L797.9,1282.3L803.8,1282.3L805.0,1283.2L813.6,1283.2L814.5,1282.3L819.0,1282.3L819.9,1281.1L822.3,1281.1L823.2,1282.3L824.6,1283.2L837.7,1283.2L838.3,1284.4L850.8,1284.4L851.7,1283.2L855.3,1283.2L856.2,1281.1L860.4,1281.1L861.2,1282.3L867.2,1282.3L868.1,1283.2L877.6,1283.2L878.2,1284.4L904.7,1284.4L905.6,1283.2L920.8,1283.2L921.4,1284.4L947.9,1284.4L948.8,1283.2L958.0,1283.2L958.6,1284.4L970.5,1284.4L971.4,1283.2L974.3,1283.2L975.2,1282.3L983.3,1282.3L983.9,1281.4L985.1,1282.3L988.3,1282.3L989.2,1281.1L991.9,1281.1L993.1,1282.3L994.3,1283.2L1005.6,1283.2L1006.8,1282.3L1008.6,1281.1L1010.4,1280.2L1015.1,1280.2L1015.7,1279.0L1016.9,1280.2L1019.9,1280.2L1021.1,1281.1L1022.9,1282.3L1025.2,1283.2L1026.4,1283.2L1027.0,1284.4L1076.4,1284.4L1077.3,1283.2L1090.7,1283.2L1091.3,1284.4L1097.6,1284.4L1098.5,1283.2L1115.7,1283.2L1116.3,1284.4L1133.6,1284.4L1134.5,1283.2L1143.4,1283.2L1144.0,1284.4L1161.5,1284.4L1162.4,1283.2L1165.1,1283.2L1166.3,1282.3L1169.9,1282.3L1170.8,1283.2L1184.8,1283.2L1186.0,1281.1L1194.3,1281.1L1195.5,1283.2L1203.5,1283.2L1204.4,1282.3L1208.0,1282.3L1208.6,1281.1L1209.8,1282.3L1211.5,1282.3L1212.7,1283.2L1221.4,1283.2L1222.3,1282.3L1229.4,1282.3L1230.6,1283.2L1231.8,1283.2L1232.4,1284.4L1244.3,1284.4L1245.2,1283.2L1249.0,1283.2L1250.2,1282.3L1255.0,1282.3L1256.2,1283.2L1259.8,1283.2L1260.0,1283.1L1262.6,1283.1L1263.6,1282.0L1268.3,1282.0L1269.6,1281.0L1272.5,1281.0L1274.0,1282.9L1275.6,1282.9L1277.2,1281.0L1278.1,1282.0L1280.4,1282.0L1282.3,1280.1L1289.6,1280.1L1291.2,1282.0L1298.3,1282.0L1300.6,1281.0L1304.0,1277.4L1305.7,1276.7L1307.8,1274.8L1309.5,1275.2L1310.8,1276.1L1312.6,1276.9L1314.8,1274.8L1316.8,1272.7L1318.7,1268.8L1321.9,1263.7L1322.2,1257.0L1325.1,1256.7L1326.6,1254.2L1327.2,1247.2L1328.6,1247.2L1329.5,1250.3L1330.8,1252.9L1332.1,1253.5L1333.3,1257.4L1335.0,1257.1L1336.3,1259.3L1337.2,1261.8L1338.8,1264.6L1339.3,1268.8L1341.0,1268.6L1341.6,1267.2L1343.5,1266.9L1345.7,1264.6L1348.0,1262.5L1349.3,1257.4L1350.8,1250.3L1352.1,1244.0L1353.4,1238.9L1354.1,1226.1L1355.4,1222.3L1356.9,1217.2L1358.5,1212.1L1359.7,1207.0L1361.0,1201.2L1362.7,1198.7L1364.3,1197.8L1365.0,1198.0L1365.2,1192.9L1365.7,1192.9L1366.1,1199.3L1367.8,1201.0L1369.1,1198.0L1369.4,1194.9L1369.9,1195.5L1370.7,1200.0L1372.2,1201.9L1372.9,1208.3L1373.8,1210.8L1374.5,1218.5L1375.4,1223.6L1376.3,1229.9L1377.3,1237.0L1378.6,1244.0L1379.9,1251.6L1380.8,1261.2L1382.4,1265.0L1384.4,1268.8L1385.3,1270.1L1387.6,1269.5L1388.8,1267.9L1390.1,1268.8L1399.7,1268.8L1401.6,1270.1L1402.6,1272.0L1406.7,1272.0L1408.6,1270.1L1409.2,1269.2L1409.5,1265.6L1410.5,1263.4L1415.0,1263.1L1415.4,1260.9L1417.9,1260.8L1418.8,1259.9L1419.7,1260.9L1420.1,1270.1L1421.4,1272.0L1423.9,1273.6L1425.8,1275.2L1427.3,1278.2L1428.4,1280.1L1433.5,1280.1L1436.7,1278.2L1442.4,1278.2L1444.3,1279.7L1446.5,1280.1L1448.5,1282.0L1450.7,1282.2L1451.3,1283.1L1456.4,1283.1L1457.4,1281.0L1458.3,1280.1L1460.5,1280.1L1461.5,1281.0L1462.8,1279.9L1464.1,1281.0L1469.2,1281.0L1470.5,1282.0L1472.0,1282.9L1483.2,1282.9L1484.0,1284.1L1523.0,1284.1L1523.8,1283.1L1537.0,1283.1L1537.8,1282.0L1542.5,1282.0L1543.4,1283.1L1560.0,1283.1L1560.8,1282.3L1563.2,1281.1L1569.2,1281.1L1571.0,1282.3L1577.2,1283.2L1578.1,1284.4L1582.9,1284.4L1583.8,1283.2L1592.4,1283.2L1593.0,1284.4L1601.9,1284.4L1602.8,1283.2L1616.2,1283.2L1616.8,1284.4L1621.0,1284.4L1621.8,1283.2L1629.3,1283.2L1629.9,1284.4L1634.6,1284.4L1635.5,1283.2L1661.4,1283.2L1662.0,1284.4L1675.7,1284.4L1676.6,1283.2L1691.2,1283.2L1692.4,1282.3L1694.8,1282.3L1696.0,1283.2L1700.1,1283.2L1700.7,1284.4L1703.1,1284.4L1704.0,1283.2L1710.2,1283.2L1711.1,1282.3L1712.6,1282.3L1713.5,1283.2L1718.0,1283.2L1718.9,1282.3L1720.4,1282.3L1721.2,1283.2L1725.1,1283.2L1725.7,1284.4L1732.9,1284.4L1733.8,1283.2L1744.2,1283.2L1744.8,1284.4L1757.0,1284.4L1757.9,1283.2L1769.2,1283.2L1770.4,1282.3L1771.5,1281.1L1773.6,1281.1L1775.1,1282.3L1777.5,1283.2L1788.5,1283.2L1789.1,1284.4L1797.1,1284.4L1798.0,1283.2L1820.4,1283.2L1821.0,1284.4L1842.7,1284.4L1843.6,1283.2L1850.7,1283.2L1851.3,1284.4L1871.8,1284.4L1872.7,1283.2L1897.7,1283.2L1898.6,1282.3L1899.8,1283.2L1932.3,1283.2L1933.5,1282.3L1935.2,1281.1L1937.3,1280.2L1943.3,1280.2L1945.4,1281.1L1947.7,1282.3L1950.1,1283.2L1955.2,1283.2L1956.1,1282.3L1957.6,1283.2L1965.0,1283.2L1966.2,1282.3L1968.0,1283.2L1969.2,1282.3L1975.1,1282.3L1976.3,1283.2L1982.0,1283.2L1982.9,1282.3L1984.0,1283.2L1987.9,1283.2L1989.4,1282.3L1991.2,1281.1L1993.0,1281.1L1994.8,1282.3L1997.7,1282.3L1998.9,1283.2L1999.8,1284.4L2019.2,1284.4L2020.0,1283.4L2025.1,1283.4L2026.1,1282.4L2031.7,1282.4L2032.8,1281.1L2033.8,1282.4L2035.6,1282.4L2036.3,1280.2L2039.8,1280.2L2040.4,1278.3L2041.4,1278.3L2042.7,1279.3L2044.0,1278.9L2045.3,1276.4L2046.5,1276.4L2047.4,1278.3L2050.0,1278.7L2051.2,1279.3L2053.2,1279.6L2055.1,1280.8L2057.0,1281.5L2058.3,1282.4L2059.8,1282.7L2060.6,1283.4L2064.6,1283.4L2065.3,1282.1L2066.2,1283.4L2084.4,1283.4L2085.1,1284.4L2089.9,1284.4L2090.8,1283.4L2097.8,1283.4L2098.4,1280.6L2100.1,1279.6L2101.6,1278.3L2108.0,1278.3L2109.9,1279.8L2111.6,1281.2L2112.9,1281.2L2113.8,1280.2L2116.7,1280.2L2118.0,1275.5L2120.8,1275.1L2121.4,1272.3L2122.7,1272.2L2123.1,1260.4L2124.0,1256.0L2124.6,1250.9L2125.2,1247.0L2126.1,1243.2L2127.1,1238.7L2129.1,1237.5L2130.3,1232.4L2131.6,1227.3L2133.3,1222.2L2134.4,1216.2L2135.1,1222.2L2135.8,1223.4L2136.3,1229.8L2137.1,1236.2L2138.6,1238.1L2140.5,1234.9L2141.8,1233.0L2142.1,1241.9L2143.1,1245.1L2143.7,1258.5L2145.6,1260.4L2146.3,1262.3L2149.8,1263.2L2150.4,1268.7L2151.1,1273.2L2152.0,1278.3L2155.2,1278.5L2156.7,1279.6L2158.4,1279.3L2160.3,1278.3L2161.8,1277.6L2162.3,1272.3L2166.4,1272.3L2168.0,1271.3L2169.5,1271.3L2171.8,1272.5L2173.1,1275.7L2174.1,1279.6L2177.5,1279.6L2178.8,1280.2L2181.0,1280.2L2181.7,1281.2L2182.6,1280.2L2186.5,1280.2L2187.3,1281.2L2198.6,1281.2L2199.6,1280.2L2201.1,1281.5L2202.7,1283.1L2203.7,1283.4L2218.7,1283.4L2219.2,1284.4L2223.8,1284.4L2224.7,1283.4L2233.6,1283.4L2234.9,1282.4L2236.8,1282.4L2238.8,1280.8L2241.7,1280.2L2243.9,1280.2L2245.8,1281.2L2247.7,1281.2L2249.6,1282.4L2251.1,1282.7L2252.1,1283.4L2256.6,1283.4L2257.2,1284.4L2283.8,1284.4L2284.7,1283.4L2290.7,1283.4L2291.3,1284.4L2295.8,1284.4L2296.5,1283.4L2300.6,1283.4L2301.9,1281.5L2303.4,1281.1L2305.7,1281.5L2307.6,1283.1L2311.5,1283.4L2312.1,1284.4L2317.4,1284.4L2318.5,1283.4L2320.0,1283.4L2320.4,1283.2L2327.5,1283.2L2328.1,1284.4L2339.7,1284.4L2340.6,1283.2L2362.6,1283.2L2363.2,1282.3L2364.1,1283.2L2371.5,1283.2L2372.1,1284.4L2412.0,1284.4L2412.9,1283.2L2416.2,1283.2L2417.1,1282.3L2419.8,1282.3L2420.7,1283.2L2425.7,1283.2L2426.3,1284.4L2435.5,1284.4L2436.4,1283.2L2453.1,1283.2L2454.3,1282.3L2457.9,1282.3L2458.8,1283.2L2463.2,1283.2L2463.8,1284.4L2478.1,1284.4L2479.0,1283.2L2486.4,1283.2L2487.0,1284.4L2516.8,1284.4L2517.7,1283.2L2520.4,1283.2L2521.2,1282.3L2524.2,1282.3L2525.1,1283.2L2540.0,1283.2L2540.6,1282.3L2541.5,1283.2L2553.1,1283.2L2554.3,1282.3L2557.3,1282.3L2558.2,1283.2L2561.4,1283.2L2562.0,1284.4L2566.8,1284.4L2567.7,1283.2L2575.7,1283.2L2576.3,1284.4L2583.8,1284.4L2584.6,1283.2L2605.5,1283.2L2606.1,1284.4L2629.9,1284.4L2630.8,1283.2L2638.8,1283.2L2639.4,1284.4L2646.0,1284.4L2646.8,1283.2L2663.8,1283.2L2664.4,1284.4L2682.9,1284.4L2683.8,1283.2L2698.9,1283.2L2699.5,1284.4L2703.7,1284.4L2704.6,1283.2L2710.8,1283.2L2712.0,1282.3L2718.6,1282.3L2719.8,1283.2L2733.5,1283.2L2734.0,1284.4L2746.8,1284.4L2747.7,1283.2L2760.8,1283.2L2761.4,1284.4L2764.4,1284.4L2765.3,1283.2L2770.4,1283.2L2771.2,1282.3L2772.7,1282.3L2773.6,1283.2L2778.1,1283.2L2778.7,1284.4L2781.7,1284.4L2782.6,1283.2L2787.6,1283.2L2788.5,1282.3L2791.2,1282.3L2792.4,1283.2L2798.3,1283.2L2798.9,1284.4L2810.8,1284.4L2811.7,1283.2L2821.8,1283.2L2822.4,1284.4L2836.7,1284.4L2837.6,1283.2L2844.8,1283.2L2845.4,1284.4L2853.7,1284.4L2854.6,1283.2L2862.6,1283.2L2863.2,1284.4L2873.9,1284.4L2874.8,1283.2L2882.9,1283.2L2883.5,1284.4L2893.6,1284.4L2894.5,1283.2L2908.5,1283.2L2909.0,1284.4L2932.0,1284.4L2932.9,1283.2L2936.4,1283.2L2938.7,1283.2L2939.3,1282.3L2940.5,1283.2L2948.2,1283.2L2948.8,1284.4L2963.7,1284.4L2964.6,1283.2L2966.1,1282.3L2967.9,1281.1L2971.4,1281.1L2972.3,1280.2L2973.8,1280.2L2974.7,1281.1L2976.2,1281.1L2977.1,1280.2L2979.2,1280.2L2980.4,1281.1L2981.5,1282.3L2983.3,1283.2L2997.6,1283.2L2998.8,1282.3L3000.0,1281.1L3001.2,1280.2L3003.0,1280.2L3004.2,1281.1L3005.7,1282.3L3008.9,1282.3L3010.1,1283.2L3018.5,1283.2L3019.6,1282.3L3022.0,1281.1L3028.0,1281.1L3029.2,1280.2L3031.5,1280.2L3032.7,1278.2L3034.5,1276.4L3035.7,1277.3L3036.9,1278.2L3038.1,1277.3L3039.3,1275.2L3040.5,1273.4L3042.9,1273.4L3044.0,1274.3L3045.8,1275.2L3048.8,1275.2L3050.3,1276.4L3051.8,1278.2L3053.6,1279.3L3054.8,1281.1L3056.0,1283.2L3062.5,1283.2L3063.1,1284.4L3068.8,1284.4L3069.6,1283.2L3076.5,1283.2L3077.1,1284.4L3081.8,1284.4L3082.7,1283.2L3088.1,1283.2L3089.0,1282.3L3091.1,1282.3L3092.0,1283.2L3100.0,1283.2L3100.9,1282.3L3105.4,1282.3L3106.2,1281.1L3107.7,1281.1L3108.6,1282.3L3109.8,1283.2L3116.7,1283.2L3117.6,1282.3L3124.4,1282.3L3125.3,1283.2L3129.2,1283.2L3129.8,1284.4L3144.0,1284.4L3144.9,1283.2L3150.6,1283.2L3151.5,1282.3L3157.4,1282.3L3158.3,1283.2L3173.2,1283.2L3173.8,1284.4L3211.6,1284.4L3212.5,1283.2L3215.5,1283.2L3216.7,1282.3L3222.0,1282.3L3223.2,1281.1L3226.8,1281.1L3228.0,1280.2L3229.2,1279.0L3230.4,1279.0L3231.5,1280.2L3234.5,1280.2L3235.7,1281.1L3237.8,1281.1L3239.3,1282.3L3241.7,1282.3L3242.9,1283.2L3262.5,1283.2L3263.7,1282.3L3270.2,1282.3L3271.1,1283.2L3279.8,1283.2L3281.0,1282.3L3285.7,1282.3L3286.9,1281.1L3289.9,1281.1L3291.1,1282.3L3293.5,1282.3L3294.3,1283.2L3295.2,1284.4L3328.6,1284.4L3329.5,1283.2L3332.7,1283.2L3333.3,1284.4L3338.7,1284.4L3339.6,1283.2L3342.9,1283.2L3344.0,1281.7L3346.4,1280.2L3349.4,1279.3L3352.4,1278.2L3356.8,1278.2L3359.8,1279.0L3363.7,1279.0L3365.5,1280.2L3367.3,1281.1L3370.2,1281.7L3372.6,1282.3L3373.8,1283.2L3376.8,1283.2L3377.7,1282.3L3389.6,1282.3L3390.5,1283.2L3408.3,1283.2L3409.5,1282.3L3410.4,1281.1L3411.0,1281.1L3411.3,1284.4L3411.3,1284.4Z" fill="#D73027" shape-rendering="crispEdges"/>
<rect x="458" y="1283.90" width="3096" height="1.3" fill="#000"/>
<rect x="149" y="1282.00" width="10" height="4.2" fill="#333"/>
<rect x="149" y="1239.35" width="10" height="4.2" fill="#333"/>
<rect x="149" y="1196.70" width="10" height="4.2" fill="#333"/>
<rect x="149" y="1154.05" width="10" height="4.2" fill="#333"/>
<text id="s6" x="308.80" y="1218.22" font-size="36.67" fill="#1a1a1a" text-anchor="middle" textLength="82.12" lengthAdjust="spacingAndGlyphs">4 RF</text>
<path d="M580.0,1462.4L580.0,1462.4L618.7,1462.4L620.5,1456.2L629.1,1456.2L629.7,1462.4L638.6,1462.4L641.0,1456.2L649.0,1456.2L649.6,1462.4L1259.8,1462.4L1260.0,1462.4L1263.8,1462.4L1264.1,1455.9L1272.8,1455.9L1273.8,1457.2L1275.1,1462.4L1287.8,1462.4L1288.7,1460.1L1290.4,1455.9L1304.0,1455.9L1306.2,1450.5L1307.4,1449.9L1310.4,1447.3L1312.6,1443.9L1314.8,1447.3L1318.0,1449.9L1319.9,1450.3L1320.2,1462.4L1321.0,1462.4L1321.9,1456.3L1322.2,1447.3L1323.1,1437.1L1324.2,1431.0L1325.7,1430.8L1326.3,1425.0L1327.3,1418.0L1328.6,1414.2L1329.5,1411.9L1331.2,1414.2L1332.1,1416.7L1333.0,1412.9L1333.7,1412.9L1334.0,1425.7L1335.3,1428.9L1336.5,1432.7L1337.8,1436.5L1338.8,1437.1L1340.1,1430.8L1341.2,1425.3L1342.9,1424.8L1343.3,1412.3L1344.8,1409.1L1346.5,1405.9L1347.8,1405.6L1348.0,1393.1L1349.9,1392.5L1350.3,1384.2L1351.1,1383.6L1351.3,1374.0L1352.1,1373.4L1352.3,1365.1L1353.1,1364.4L1353.8,1355.9L1354.1,1337.0L1355.0,1336.4L1355.4,1324.0L1357.6,1323.8L1362.0,1319.2L1363.1,1318.9L1363.3,1328.7L1364.0,1329.4L1364.3,1338.3L1364.8,1339.6L1365.2,1356.2L1366.1,1362.5L1367.1,1367.0L1368.2,1372.1L1369.1,1377.2L1370.3,1381.0L1371.9,1382.3L1372.2,1391.2L1372.9,1391.9L1373.3,1400.2L1374.8,1401.4L1375.2,1405.9L1376.7,1407.2L1377.1,1422.5L1378.0,1423.1L1378.4,1437.1L1379.6,1438.4L1380.5,1444.2L1381.8,1451.8L1382.2,1455.9L1386.0,1455.9L1386.9,1457.6L1387.2,1462.4L1396.9,1462.4L1397.5,1458.8L1398.4,1455.9L1411.8,1455.9L1413.1,1450.3L1418.8,1450.3L1420.1,1451.8L1421.4,1455.0L1422.6,1458.8L1423.9,1462.0L1424.2,1462.4L1472.8,1462.4L1473.0,1455.9L1475.6,1455.9L1476.8,1453.1L1478.4,1450.3L1479.1,1443.9L1481.7,1443.9L1482.2,1438.0L1482.8,1438.0L1483.2,1442.2L1484.2,1444.2L1486.4,1446.7L1488.3,1449.3L1490.6,1451.6L1491.1,1455.9L1493.2,1456.9L1494.1,1459.5L1494.9,1462.4L1560.0,1462.4L2020.0,1462.4L2077.8,1462.4L2078.0,1455.9L2086.6,1455.9L2088.2,1457.9L2090.8,1462.0L2091.2,1462.4L2094.6,1462.4L2096.3,1459.5L2098.1,1456.3L2100.1,1449.9L2109.9,1449.9L2111.6,1451.8L2114.1,1455.9L2120.8,1455.9L2121.1,1449.9L2122.7,1449.6L2123.1,1444.2L2124.0,1443.5L2124.2,1431.0L2128.4,1430.8L2129.7,1428.6L2131.6,1425.7L2132.9,1421.2L2134.2,1416.1L2135.1,1412.9L2135.6,1412.9L2136.1,1418.0L2138.6,1418.0L2139.9,1412.3L2142.2,1412.0L2143.7,1413.5L2144.0,1426.0L2144.7,1426.3L2145.0,1443.9L2149.5,1443.9L2150.7,1445.4L2151.4,1451.2L2152.4,1456.9L2152.7,1462.4L2153.9,1462.4L2154.9,1455.9L2163.5,1455.9L2165.4,1458.2L2167.3,1461.4L2168.2,1462.4L2289.8,1462.4L2291.4,1459.5L2293.2,1456.3L2295.8,1455.6L2297.0,1449.9L2301.6,1449.9L2302.5,1455.9L2304.2,1456.7L2305.7,1460.1L2307.0,1462.4L2320.0,1462.4L2320.4,1462.4L2368.0,1462.4L2368.6,1456.2L2372.4,1456.2L2376.3,1450.2L2378.4,1450.2L2382.9,1455.3L2385.8,1459.1L2387.6,1462.4L2415.6,1462.4L2416.5,1456.2L2420.1,1456.2L2423.0,1450.2L2426.9,1450.2L2428.1,1455.3L2430.5,1456.2L2433.5,1461.5L2434.0,1462.4L2552.5,1462.4L2554.0,1458.2L2555.5,1456.2L2563.8,1456.2L2565.0,1462.4L2566.8,1462.4L2567.4,1456.2L2574.8,1456.2L2577.8,1459.1L2579.9,1462.4L2641.8,1462.4L2642.4,1456.2L2644.2,1455.3L2647.1,1450.2L2652.2,1450.2L2655.2,1456.2L2658.2,1462.4L2729.6,1462.4L2730.5,1456.2L2734.0,1456.2L2735.5,1450.2L2737.6,1450.2L2740.0,1453.2L2743.6,1456.2L2745.1,1459.1L2745.7,1462.4L2828.7,1462.4L2830.2,1456.2L2839.7,1456.2L2841.2,1458.2L2841.8,1462.4L2857.9,1462.4L2858.5,1450.2L2866.5,1450.2L2869.5,1455.3L2872.4,1456.2L2874.5,1450.2L2879.9,1450.2L2881.4,1456.2L2888.8,1456.2L2889.4,1450.2L2892.4,1450.2L2896.2,1455.3L2899.2,1457.0L2900.1,1462.4L2913.2,1462.4L2914.4,1456.2L2921.5,1456.2L2923.9,1459.1L2925.1,1462.4L2936.4,1462.4L2943.2,1462.4L2944.6,1459.1L2947.0,1456.2L2953.6,1456.2L2954.2,1450.2L2956.0,1452.3L2958.0,1456.2L2964.0,1456.2L2964.9,1462.4L2976.8,1462.4L2977.4,1456.2L2986.3,1456.2L2986.9,1462.4L3009.5,1462.4L3011.6,1458.2L3013.7,1453.8L3015.5,1450.2L3019.6,1450.2L3021.4,1453.2L3022.6,1456.2L3025.0,1456.2L3026.2,1462.4L3035.7,1462.4L3036.3,1456.2L3046.4,1456.2L3047.0,1462.4L3072.6,1462.4L3074.1,1456.2L3078.0,1456.2L3079.5,1452.3L3081.0,1450.2L3082.1,1450.2L3083.9,1452.3L3086.3,1455.3L3090.5,1456.2L3091.7,1458.2L3092.3,1462.4L3144.6,1462.4L3145.8,1458.2L3147.0,1456.2L3151.5,1456.2L3152.4,1450.2L3155.4,1450.2L3156.8,1453.2L3157.7,1456.2L3161.9,1456.2L3163.1,1462.4L3164.6,1462.4L3165.5,1458.2L3166.7,1456.2L3172.6,1456.2L3173.2,1450.2L3174.1,1450.2L3174.7,1456.2L3182.1,1456.2L3183.3,1458.2L3183.9,1462.4L3194.6,1462.4L3195.2,1456.2L3199.1,1456.2L3201.2,1452.3L3203.6,1450.2L3204.8,1450.2L3206.0,1453.8L3208.0,1456.2L3211.0,1459.7L3213.1,1462.4L3228.0,1462.4L3228.9,1458.2L3229.8,1456.2L3237.8,1456.2L3238.1,1451.4L3239.0,1451.4L3239.3,1456.2L3246.7,1456.2L3248.8,1459.1L3250.6,1462.4L3260.7,1462.4L3261.3,1456.2L3270.5,1456.2L3271.7,1459.1L3272.3,1462.4L3275.6,1462.4L3276.5,1450.2L3286.9,1450.2L3288.1,1456.2L3301.2,1456.2L3303.3,1453.2L3305.4,1450.2L3308.9,1450.2L3310.1,1456.2L3311.3,1453.8L3313.1,1450.8L3314.3,1453.8L3315.5,1456.2L3319.6,1456.2L3322.0,1459.1L3324.4,1462.4L3332.1,1462.4L3333.9,1458.2L3336.0,1456.2L3337.5,1452.3L3339.9,1450.2L3341.1,1444.2L3342.0,1444.2L3342.6,1449.3L3344.0,1447.8L3345.5,1443.4L3346.4,1437.4L3348.8,1437.4L3349.1,1432.3L3350.0,1432.3L3350.3,1437.4L3351.8,1437.4L3352.4,1431.4L3355.4,1431.4L3356.0,1437.4L3359.8,1437.4L3360.7,1431.4L3361.9,1427.6L3362.8,1426.4L3363.4,1431.4L3364.9,1431.4L3366.1,1429.4L3367.3,1425.5L3368.8,1425.5L3369.3,1418.1L3369.9,1418.1L3370.5,1431.4L3371.7,1432.3L3372.6,1437.4L3374.7,1438.3L3376.8,1443.4L3378.6,1449.3L3380.7,1453.8L3382.7,1457.3L3384.5,1460.3L3385.4,1462.4L3394.6,1462.4L3395.5,1456.2L3402.4,1456.2L3404.8,1459.1L3407.1,1462.4L3410.4,1462.4L3411.3,1459.7L3412.2,1458.2L3412.8,1462.4L3412.8,1462.4Z" fill="#A50026" shape-rendering="crispEdges"/>
<rect x="458" y="1461.90" width="3096" height="1.3" fill="#000"/>
<rect x="149" y="1460.00" width="10" height="4.2" fill="#333"/>
<rect x="149" y="1417.35" width="10" height="4.2" fill="#333"/>
<rect x="149" y="1374.70" width="10" height="4.2" fill="#333"/>
<rect x="149" y="1332.05" width="10" height="4.2" fill="#333"/>
<text id="s7" x="308.40" y="1396.47" font-size="36.67" fill="#1a1a1a" text-anchor="middle" textLength="261.01" lengthAdjust="spacingAndGlyphs">8 Pre-Adipocyte</text>
<path d="M580.0,1641.4L580.0,1641.4L601.4,1641.4L602.3,1639.3L609.2,1639.3L610.4,1638.4L612.7,1637.2L615.1,1636.3L617.2,1634.3L621.1,1634.3L622.3,1635.4L624.6,1636.3L627.0,1637.8L629.1,1639.3L634.2,1639.3L635.4,1638.4L644.0,1638.4L645.5,1637.2L651.4,1637.2L652.3,1636.3L654.4,1636.3L655.6,1637.2L657.4,1637.8L658.9,1639.3L664.8,1639.3L666.3,1638.4L669.3,1637.8L672.3,1637.2L674.6,1636.3L681.2,1636.3L682.7,1637.2L693.7,1637.2L694.6,1636.3L696.1,1636.3L697.3,1637.2L698.5,1638.4L700.5,1638.4L702.0,1637.2L709.5,1637.2L711.0,1638.4L712.7,1640.2L713.3,1641.4L718.7,1641.4L719.9,1640.2L721.4,1639.3L725.8,1639.3L727.0,1638.4L728.2,1639.3L740.7,1639.3L742.2,1637.8L744.3,1637.2L746.1,1637.2L747.3,1638.4L751.1,1638.4L752.6,1640.2L753.5,1641.4L755.0,1641.4L756.2,1639.3L758.6,1638.4L761.0,1637.2L764.5,1637.2L765.7,1638.4L770.5,1638.4L771.7,1640.2L772.3,1641.4L780.0,1641.4L780.6,1638.4L783.9,1637.8L786.0,1636.3L788.3,1636.3L789.8,1637.2L791.9,1638.4L794.9,1638.4L796.1,1639.3L797.9,1639.3L799.0,1638.4L803.8,1638.4L805.0,1637.2L808.6,1637.2L809.8,1638.4L812.1,1638.4L813.6,1640.2L815.1,1641.4L825.5,1641.4L827.0,1639.3L828.8,1637.8L830.6,1637.2L835.4,1637.2L836.2,1636.3L837.4,1637.2L839.5,1637.2L840.7,1638.4L845.5,1638.4L847.3,1639.3L849.3,1640.2L850.2,1641.4L852.6,1641.4L853.8,1639.3L855.6,1638.4L862.7,1638.4L863.9,1639.3L865.1,1638.4L867.2,1637.2L873.2,1637.2L875.2,1638.4L877.0,1639.3L877.6,1641.4L879.4,1641.4L880.6,1640.2L882.1,1639.3L885.1,1639.3L886.5,1638.4L891.0,1638.4L892.5,1637.2L899.0,1637.2L900.8,1638.4L902.9,1639.3L903.8,1641.4L965.7,1641.4L966.9,1639.3L976.4,1639.3L977.0,1641.4L993.7,1641.4L994.9,1640.2L996.7,1639.3L999.6,1638.4L1002.0,1637.2L1008.6,1637.2L1010.4,1638.4L1017.5,1638.4L1019.3,1639.3L1020.5,1640.2L1021.1,1641.4L1035.4,1641.4L1036.5,1639.3L1055.6,1639.3L1056.8,1640.2L1057.4,1641.4L1065.7,1641.4L1066.9,1639.3L1077.6,1639.3L1079.4,1638.4L1084.5,1638.4L1086.0,1639.3L1088.9,1639.3L1089.8,1641.4L1101.4,1641.4L1102.6,1638.4L1105.3,1637.8L1108.3,1636.9L1110.4,1636.3L1115.7,1636.3L1118.1,1637.2L1121.1,1637.8L1123.2,1639.3L1124.3,1641.4L1125.2,1639.3L1133.0,1639.3L1134.2,1640.2L1136.0,1641.4L1170.8,1641.4L1172.3,1640.2L1174.6,1639.3L1177.6,1639.3L1179.4,1638.4L1193.7,1638.4L1195.5,1639.3L1196.7,1640.8L1197.3,1641.4L1213.3,1641.4L1214.5,1640.2L1215.7,1639.3L1221.4,1639.3L1222.9,1640.2L1224.0,1641.4L1230.3,1641.4L1231.8,1640.2L1233.6,1639.3L1236.0,1638.4L1237.7,1637.2L1240.1,1637.8L1241.9,1638.4L1245.2,1638.4L1246.7,1639.3L1248.2,1640.8L1249.0,1641.4L1251.4,1641.4L1252.6,1639.9L1255.0,1637.8L1257.1,1637.2L1259.8,1637.2L1260.0,1637.4L1261.3,1638.3L1267.7,1638.3L1268.7,1637.4L1270.5,1637.2L1271.5,1636.4L1274.7,1636.4L1276.6,1638.3L1278.5,1639.4L1280.2,1641.0L1282.3,1641.0L1284.0,1639.4L1293.4,1639.4L1294.4,1638.3L1297.0,1638.1L1298.3,1636.2L1300.2,1633.0L1301.5,1631.7L1303.4,1629.8L1304.4,1627.5L1307.8,1627.5L1308.7,1628.9L1309.5,1631.7L1311.0,1631.1L1312.6,1632.3L1313.3,1634.3L1314.6,1633.0L1315.9,1629.8L1317.1,1626.0L1317.7,1625.3L1319.3,1624.7L1319.9,1623.8L1320.2,1615.5L1321.9,1615.1L1323.1,1613.2L1324.4,1609.4L1325.3,1605.6L1326.6,1603.0L1327.3,1597.9L1328.2,1594.1L1328.9,1588.1L1329.9,1586.0L1330.4,1585.2L1331.2,1590.3L1333.3,1590.3L1334.0,1589.0L1335.3,1593.4L1336.8,1593.2L1337.4,1591.1L1338.1,1595.4L1339.1,1599.2L1340.1,1603.4L1346.7,1603.4L1347.4,1600.5L1349.0,1598.8L1349.9,1598.3L1350.3,1574.9L1351.2,1569.2L1352.1,1563.5L1353.1,1557.7L1354.1,1551.3L1355.0,1542.4L1356.3,1539.2L1357.2,1536.7L1358.0,1533.7L1359.5,1533.5L1360.0,1519.5L1360.9,1519.5L1361.3,1527.4L1361.8,1527.8L1362.0,1536.7L1363.6,1536.7L1364.6,1538.0L1365.1,1543.4L1367.1,1543.1L1368.7,1542.4L1369.1,1533.7L1369.7,1533.2L1370.1,1525.5L1371.0,1525.8L1371.9,1526.9L1372.2,1543.7L1372.9,1547.5L1373.5,1552.6L1374.2,1558.4L1375.4,1562.8L1376.3,1567.9L1377.3,1573.7L1378.6,1577.5L1379.3,1589.6L1379.9,1590.9L1380.2,1608.7L1381.2,1615.8L1382.2,1622.5L1384.4,1622.5L1385.6,1623.4L1386.9,1623.8L1388.2,1625.3L1392.7,1625.3L1393.9,1622.8L1395.5,1618.7L1396.7,1618.3L1398.4,1613.6L1399.7,1613.2L1401.6,1611.6L1402.2,1613.2L1403.5,1613.2L1404.8,1614.5L1405.4,1619.0L1406.4,1624.7L1407.3,1626.3L1408.2,1624.3L1411.1,1624.3L1413.1,1622.8L1414.6,1620.2L1416.2,1616.7L1418.2,1612.6L1418.4,1611.6L1419.7,1611.6L1420.5,1615.1L1421.4,1617.9L1422.6,1619.2L1423.9,1620.9L1425.2,1623.4L1426.5,1624.7L1428.1,1626.9L1429.6,1629.4L1430.9,1627.2L1432.4,1626.6L1434.1,1628.3L1435.8,1629.8L1437.6,1630.4L1439.6,1632.7L1441.4,1634.3L1446.5,1634.3L1448.5,1636.6L1449.8,1637.4L1452.0,1637.4L1453.6,1639.4L1465.6,1639.4L1466.4,1638.3L1467.3,1639.4L1474.5,1639.4L1476.2,1641.4L1482.6,1641.4L1484.7,1639.4L1491.5,1639.4L1492.8,1638.3L1496.0,1638.3L1496.6,1637.4L1499.5,1637.4L1500.4,1638.3L1503.9,1638.3L1504.6,1637.2L1505.5,1637.4L1506.2,1638.3L1527.6,1638.3L1528.5,1639.4L1532.7,1639.4L1534.2,1641.4L1542.9,1641.4L1543.4,1639.4L1552.7,1639.4L1553.4,1640.4L1554.9,1640.6L1555.9,1641.4L1560.0,1641.4L1560.8,1641.4L1563.8,1641.4L1565.3,1639.3L1567.4,1637.8L1569.8,1635.7L1572.7,1635.4L1575.1,1637.2L1578.7,1637.8L1580.5,1639.3L1581.7,1641.4L1594.2,1641.4L1595.4,1640.2L1597.1,1639.3L1603.1,1639.3L1604.3,1640.8L1606.1,1641.4L1607.3,1639.3L1615.9,1639.3L1617.4,1640.2L1618.0,1641.4L1646.0,1641.4L1647.1,1640.2L1648.9,1639.3L1656.1,1639.3L1657.9,1640.2L1659.0,1641.4L1672.7,1641.4L1673.3,1639.3L1693.3,1639.3L1694.8,1638.4L1696.0,1639.3L1709.0,1639.3L1710.8,1638.4L1721.0,1638.4L1722.1,1639.3L1726.9,1639.3L1728.1,1640.2L1728.7,1641.4L1750.7,1641.4L1751.9,1640.2L1753.1,1639.3L1760.8,1639.3L1762.0,1640.2L1762.6,1641.4L1784.0,1641.4L1785.2,1640.2L1786.4,1639.3L1793.0,1639.3L1794.5,1640.2L1795.4,1641.4L1831.7,1641.4L1832.9,1640.2L1834.0,1639.3L1838.2,1639.3L1840.0,1640.2L1841.2,1641.4L1847.1,1641.4L1848.3,1640.2L1849.5,1639.3L1857.0,1639.3L1857.9,1641.4L1863.8,1641.4L1865.0,1640.2L1866.2,1639.3L1870.4,1639.3L1871.5,1638.4L1873.3,1639.3L1901.6,1639.3L1902.5,1638.4L1903.7,1639.3L1912.0,1639.3L1912.6,1641.4L1913.8,1641.4L1914.4,1639.3L1923.3,1639.3L1923.9,1641.4L1950.7,1641.4L1951.9,1640.2L1953.7,1639.3L1955.5,1638.4L1959.6,1638.4L1961.4,1639.3L1965.0,1639.3L1966.2,1640.2L1966.8,1641.4L1975.7,1641.4L1976.9,1640.2L1978.7,1639.3L1980.5,1638.4L1987.9,1638.4L1989.4,1639.3L1993.0,1639.3L1994.2,1640.2L1994.8,1641.4L2005.8,1641.4L2006.4,1638.4L2016.2,1638.4L2017.4,1639.3L2019.2,1639.3L2020.0,1639.2L2021.5,1638.2L2027.9,1638.0L2029.2,1635.9L2030.2,1637.2L2035.9,1637.2L2036.6,1636.0L2038.5,1636.0L2039.1,1636.9L2041.0,1638.0L2043.6,1638.0L2045.3,1635.9L2046.5,1637.2L2048.7,1637.2L2049.6,1638.0L2053.8,1638.0L2054.7,1639.1L2067.8,1639.1L2068.5,1641.1L2071.7,1641.1L2072.9,1640.1L2074.6,1639.1L2081.0,1639.1L2082.5,1641.1L2083.1,1639.1L2087.6,1639.1L2088.6,1638.0L2090.8,1638.0L2091.7,1636.9L2093.7,1636.9L2094.4,1638.0L2095.9,1638.0L2097.6,1635.9L2098.1,1633.1L2102.9,1633.1L2103.5,1632.1L2105.5,1630.9L2107.4,1633.1L2109.9,1635.7L2112.5,1638.2L2113.8,1638.2L2115.7,1635.9L2118.0,1633.1L2118.2,1632.1L2120.8,1632.1L2121.1,1627.4L2122.0,1622.9L2123.1,1619.1L2124.0,1618.4L2124.2,1605.0L2125.2,1605.7L2126.5,1607.0L2128.2,1605.3L2129.7,1603.8L2130.1,1599.9L2131.6,1598.7L2133.5,1597.0L2134.8,1598.7L2135.4,1602.5L2136.3,1606.3L2137.6,1605.7L2139.3,1607.6L2140.9,1608.2L2142.1,1609.5L2142.4,1612.1L2143.3,1612.7L2143.7,1616.5L2144.4,1622.9L2145.3,1625.7L2147.6,1628.0L2149.5,1629.9L2151.1,1632.9L2154.6,1632.9L2155.5,1631.8L2156.7,1633.1L2158.4,1635.0L2159.0,1637.2L2161.8,1637.2L2162.2,1633.1L2164.8,1633.1L2166.0,1634.1L2168.0,1632.1L2170.5,1630.9L2172.4,1630.9L2173.7,1632.1L2174.1,1635.0L2175.6,1635.9L2177.5,1636.0L2178.4,1637.2L2185.2,1637.2L2186.5,1638.0L2188.6,1638.2L2189.4,1639.1L2198.8,1639.1L2199.8,1638.0L2207.5,1638.0L2208.5,1639.1L2212.6,1639.1L2213.2,1641.4L2222.8,1641.4L2223.8,1640.1L2226.6,1639.9L2227.9,1639.1L2229.8,1638.8L2231.5,1637.2L2233.6,1637.2L2234.3,1638.0L2238.8,1638.0L2239.4,1635.9L2240.2,1637.2L2246.8,1637.2L2248.3,1635.0L2249.6,1634.1L2250.2,1635.0L2257.5,1635.0L2259.2,1636.9L2260.1,1638.0L2263.0,1638.0L2263.9,1637.2L2267.7,1637.2L2268.7,1638.0L2269.7,1638.2L2270.6,1639.1L2277.9,1639.1L2278.9,1638.0L2279.7,1639.1L2283.8,1639.1L2284.7,1638.0L2286.6,1638.0L2287.5,1636.9L2288.1,1638.0L2291.7,1638.0L2293.0,1639.1L2294.2,1639.5L2296.1,1641.1L2296.8,1641.4L2320.0,1641.4L2320.4,1641.4L2357.9,1641.4L2358.5,1639.3L2368.0,1639.3L2369.5,1640.2L2370.1,1641.4L2385.8,1641.4L2387.0,1640.2L2388.8,1639.3L2393.0,1639.3L2394.8,1637.8L2397.1,1637.2L2403.7,1637.2L2404.6,1636.3L2406.1,1636.3L2407.3,1637.2L2411.1,1637.2L2412.6,1638.4L2414.4,1639.3L2415.6,1640.8L2416.2,1641.4L2422.1,1641.4L2423.0,1639.3L2424.5,1638.4L2429.9,1638.4L2431.1,1639.3L2432.3,1640.2L2432.9,1641.4L2473.9,1641.4L2475.1,1640.2L2476.6,1639.3L2479.9,1639.3L2481.7,1637.8L2483.5,1637.2L2489.4,1637.2L2490.6,1638.4L2493.0,1639.3L2494.8,1640.8L2495.4,1641.4L2545.1,1641.4L2546.0,1640.2L2547.7,1639.3L2556.1,1639.3L2557.3,1640.2L2557.9,1641.4L2565.6,1641.4L2566.8,1640.2L2568.6,1639.3L2575.1,1639.3L2576.3,1640.2L2576.9,1641.4L2612.0,1641.4L2613.2,1640.2L2615.0,1639.3L2622.1,1639.3L2623.9,1640.2L2625.1,1641.4L2627.5,1641.4L2628.7,1640.2L2630.5,1639.3L2632.9,1638.4L2635.8,1637.2L2640.3,1637.2L2641.8,1638.4L2644.2,1638.4L2645.4,1639.3L2648.3,1639.3L2649.5,1638.4L2661.1,1638.4L2662.0,1637.2L2663.2,1638.4L2664.4,1639.3L2668.6,1639.3L2670.1,1640.2L2671.0,1641.4L2730.5,1641.4L2731.7,1640.2L2734.0,1639.3L2743.0,1639.3L2744.2,1640.2L2744.8,1641.4L2752.5,1641.4L2753.4,1639.3L2756.4,1638.4L2757.9,1637.2L2762.6,1637.2L2763.8,1638.4L2767.4,1638.4L2768.6,1639.3L2769.8,1640.8L2770.4,1641.4L2777.5,1641.4L2778.1,1639.3L2783.2,1639.3L2784.6,1638.4L2788.2,1638.4L2789.4,1639.3L2791.2,1640.2L2792.4,1641.4L2876.3,1641.4L2877.5,1640.2L2879.3,1639.3L2882.3,1639.3L2883.5,1638.4L2887.3,1638.4L2888.8,1639.3L2898.3,1639.3L2899.5,1638.4L2904.3,1638.4L2905.5,1639.3L2913.2,1639.3L2914.4,1638.4L2917.4,1638.4L2918.6,1639.3L2923.9,1639.3L2924.5,1641.4L2929.3,1641.4L2930.5,1640.2L2932.3,1639.3L2934.0,1638.4L2936.4,1638.4L2940.2,1638.4L2941.7,1639.3L2943.5,1640.8L2944.0,1641.4L2964.0,1641.4L2965.5,1640.2L2967.9,1639.3L2969.0,1637.8L2971.4,1637.2L2972.6,1636.3L2975.9,1636.3L2976.8,1635.4L2978.0,1636.3L2979.8,1636.3L2981.0,1637.8L2982.7,1637.8L2984.5,1636.3L2986.3,1637.2L2988.1,1638.4L2989.9,1638.4L2991.1,1637.2L2992.9,1637.8L2996.7,1637.8L2998.2,1637.2L3004.2,1637.2L3005.7,1636.3L3008.6,1636.3L3010.1,1637.2L3011.9,1638.4L3013.7,1639.3L3019.0,1639.3L3020.5,1637.8L3022.0,1636.3L3023.5,1635.2L3026.5,1634.3L3028.6,1633.4L3030.4,1631.9L3032.4,1631.3L3035.4,1631.3L3037.5,1632.5L3039.9,1633.1L3042.3,1634.3L3044.3,1634.3L3045.8,1635.4L3047.6,1635.4L3049.4,1636.3L3050.6,1637.2L3051.8,1637.8L3053.6,1637.2L3055.4,1638.4L3057.1,1639.3L3060.1,1639.3L3061.3,1640.2L3062.5,1641.4L3072.0,1641.4L3073.2,1639.3L3083.0,1639.3L3083.9,1641.4L3092.0,1641.4L3093.5,1640.2L3095.2,1638.4L3097.6,1637.2L3100.0,1636.3L3103.9,1636.3L3105.4,1635.4L3106.5,1636.3L3108.3,1637.2L3111.3,1638.4L3114.9,1638.4L3116.7,1639.3L3117.9,1640.8L3118.5,1641.4L3121.7,1641.4L3123.2,1640.2L3125.0,1639.3L3132.1,1639.3L3133.9,1640.2L3135.1,1641.4L3142.3,1641.4L3143.5,1639.3L3153.0,1639.3L3154.8,1638.4L3161.9,1638.4L3163.4,1639.3L3164.9,1640.8L3165.5,1641.4L3191.7,1641.4L3192.3,1639.3L3201.2,1639.3L3202.4,1640.2L3203.0,1641.4L3208.3,1641.4L3209.5,1640.2L3211.3,1639.3L3218.5,1639.3L3219.6,1640.2L3220.2,1641.4L3222.6,1641.4L3223.2,1639.3L3230.4,1639.3L3231.5,1638.4L3236.3,1638.4L3237.5,1637.8L3241.1,1637.8L3242.3,1638.7L3245.8,1638.7L3247.0,1637.8L3248.8,1638.4L3250.6,1637.2L3255.7,1637.2L3256.5,1636.3L3258.6,1636.3L3260.1,1637.2L3263.1,1637.8L3266.1,1638.4L3268.5,1639.0L3273.5,1639.0L3275.0,1638.4L3276.8,1639.0L3282.4,1639.0L3283.9,1640.8L3284.5,1641.4L3287.5,1641.4L3288.7,1640.2L3290.5,1639.3L3294.3,1639.3L3295.8,1640.8L3296.4,1641.4L3316.7,1641.4L3317.9,1640.2L3319.6,1639.3L3326.2,1639.3L3327.4,1640.2L3328.6,1641.4L3336.3,1641.4L3337.5,1640.2L3339.3,1639.3L3346.4,1639.3L3347.9,1640.2L3349.4,1641.4L3350.6,1641.4L3351.2,1639.3L3353.9,1638.4L3362.8,1637.8L3364.3,1637.2L3371.7,1637.2L3373.2,1638.4L3376.2,1639.0L3378.6,1639.6L3379.8,1640.8L3380.4,1641.4L3389.6,1641.4L3390.5,1640.2L3392.6,1639.3L3397.0,1639.3L3398.5,1637.8L3401.5,1637.8L3402.4,1639.0L3403.6,1637.2L3405.4,1635.7L3407.4,1635.2L3409.5,1635.7L3411.3,1635.7L3411.9,1641.4L3411.9,1641.4Z" fill="#8E0152" shape-rendering="crispEdges"/>
<rect x="458" y="1640.90" width="3096" height="1.3" fill="#000"/>
<rect x="149" y="1639.00" width="10" height="4.2" fill="#333"/>
<rect x="149" y="1596.35" width="10" height="4.2" fill="#333"/>
<rect x="149" y="1553.70" width="10" height="4.2" fill="#333"/>
<rect x="149" y="1511.05" width="10" height="4.2" fill="#333"/>
<text id="s8" x="308.45" y="1574.72" font-size="36.67" fill="#1a1a1a" text-anchor="middle" textLength="137.03" lengthAdjust="spacingAndGlyphs">7 Fascia</text>
<rect x="158" y="45" width="4.2" height="1603.8" fill="#000"/>
<rect x="158" y="1706" width="4.2" height="319.6" fill="#000"/>
<rect x="158" y="2083.8" width="4.2" height="160.2" fill="#000"/>
<rect x="458" y="2241.8" width="3096" height="4.4" fill="#000"/>
<rect x="543.9" y="2246" width="4.2" height="9" fill="#333"/>
<text id="x0" x="545.40" y="2292.30" font-size="36.67" fill="#4d4d4d" text-anchor="middle" textLength="168.60" lengthAdjust="spacingAndGlyphs">25265000</text>
<rect x="1097.0" y="2246" width="4.2" height="9" fill="#333"/>
<text id="x1" x="1098.68" y="2292.30" font-size="36.67" fill="#4d4d4d" text-anchor="middle" textLength="168.60" lengthAdjust="spacingAndGlyphs">25270000</text>
<rect x="1650.2" y="2246" width="4.2" height="9" fill="#333"/>
<text id="x2" x="1651.96" y="2292.30" font-size="36.67" fill="#4d4d4d" text-anchor="middle" textLength="169.66" lengthAdjust="spacingAndGlyphs">25275000</text>
<rect x="2203.3" y="2246" width="4.2" height="9" fill="#333"/>
<text id="x3" x="2205.24" y="2292.30" font-size="36.67" fill="#4d4d4d" text-anchor="middle" textLength="169.66" lengthAdjust="spacingAndGlyphs">25280000</text>
<rect x="2756.5" y="2246" width="4.2" height="9" fill="#333"/>
<text id="x4" x="2758.52" y="2292.30" font-size="36.67" fill="#4d4d4d" text-anchor="middle" textLength="168.60" lengthAdjust="spacingAndGlyphs">25285000</text>
<rect x="3309.6" y="2246" width="4.2" height="9" fill="#333"/>
<text id="x5" x="3311.30" y="2292.30" font-size="36.67" fill="#4d4d4d" text-anchor="middle" textLength="168.60" lengthAdjust="spacingAndGlyphs">25290000</text>
<text id="xt" x="2006.50" y="2345.80" font-size="45.83" fill="#000" text-anchor="middle" textLength="361.18" lengthAdjust="spacingAndGlyphs">chr2 position (bp)</text>
<text id="y1" transform="translate(80.40,854.50) rotate(-90)" font-size="45.83" fill="#000" text-anchor="middle" textLength="491.00" lengthAdjust="spacingAndGlyphs">Normalized accessibility</text>
<text id="y2" transform="translate(130.20,847.00) rotate(-90)" font-size="45.83" fill="#000" text-anchor="middle" textLength="305.19" lengthAdjust="spacingAndGlyphs">(range 0 - 190)</text>
<text id="yg" transform="translate(105.30,1867.10) rotate(-90)" font-size="45.83" fill="#000" text-anchor="middle" textLength="136.06" lengthAdjust="spacingAndGlyphs">Genes</text>
<text id="yp" transform="translate(105.30,2164.55) rotate(-90)" font-size="45.83" fill="#000" text-anchor="middle" textLength="127.48" lengthAdjust="spacingAndGlyphs">Peaks</text>
<line x1="599.5" y1="1998.5" x2="1086.0" y2="1998.5" stroke="#00008B" stroke-width="4.4"/><path d="M587.1,1987.6L598.0,1998.5L587.1,2009.4" fill="none" stroke="#00008B" stroke-width="4.4" stroke-linecap="butt" stroke-linejoin="miter"/><path d="M698.1,1987.6L709.0,1998.5L698.1,2009.4" fill="none" stroke="#00008B" stroke-width="4.4" stroke-linecap="butt" stroke-linejoin="miter"/><path d="M809.1,1987.6L820.0,1998.5L809.1,2009.4" fill="none" stroke="#00008B" stroke-width="4.4" stroke-linecap="butt" stroke-linejoin="miter"/><path d="M919.6,1987.6L930.5,1998.5L919.6,2009.4" fill="none" stroke="#00008B" stroke-width="4.4" stroke-linecap="butt" stroke-linejoin="miter"/><rect x="970.0" y="1976.7" width="44.8" height="43.6" fill="#00008B"/><rect x="1028.1" y="1976.7" width="57.9" height="43.6" fill="#00008B"/><rect x="830.2" y="1976.7" width="5.6" height="43.6" fill="#00008B"/><circle cx="1086.2" cy="1998.5" r="2.6" fill="#00008B"/>
<line x1="1214.0" y1="1998.5" x2="1369.0" y2="1998.5" stroke="#006400" stroke-width="4.4"/><rect x="1213.9" y="1976.7" width="59.9" height="43.6" fill="#006400"/><rect x="1287.9" y="1976.7" width="81.0" height="43.6" fill="#006400"/><circle cx="1214.6" cy="1998.5" r="2.6" fill="#006400"/>
<line x1="1374.4" y1="1859.4" x2="2860.0" y2="1859.4" stroke="#00008B" stroke-width="4.4"/><path d="M1362.0,1848.5L1372.9,1859.4L1362.0,1870.3" fill="none" stroke="#00008B" stroke-width="4.4" stroke-linecap="butt" stroke-linejoin="miter"/><path d="M1472.6,1848.5L1483.5,1859.4L1472.6,1870.3" fill="none" stroke="#00008B" stroke-width="4.4" stroke-linecap="butt" stroke-linejoin="miter"/><path d="M1583.3,1848.5L1594.2,1859.4L1583.3,1870.3" fill="none" stroke="#00008B" stroke-width="4.4" stroke-linecap="butt" stroke-linejoin="miter"/><path d="M1693.9,1848.5L1704.8,1859.4L1693.9,1870.3" fill="none" stroke="#00008B" stroke-width="4.4" stroke-linecap="butt" stroke-linejoin="miter"/><path d="M1804.5,1848.5L1815.4,1859.4L1804.5,1870.3" fill="none" stroke="#00008B" stroke-width="4.4" stroke-linecap="butt" stroke-linejoin="miter"/><path d="M1915.2,1848.5L1926.1,1859.4L1915.2,1870.3" fill="none" stroke="#00008B" stroke-width="4.4" stroke-linecap="butt" stroke-linejoin="miter"/><path d="M2025.8,1848.5L2036.7,1859.4L2025.8,1870.3" fill="none" stroke="#00008B" stroke-width="4.4" stroke-linecap="butt" stroke-linejoin="miter"/><path d="M2136.4,1848.5L2147.3,1859.4L2136.4,1870.3" fill="none" stroke="#00008B" stroke-width="4.4" stroke-linecap="butt" stroke-linejoin="miter"/><path d="M2247.0,1848.5L2257.9,1859.4L2247.0,1870.3" fill="none" stroke="#00008B" stroke-width="4.4" stroke-linecap="butt" stroke-linejoin="miter"/><path d="M2357.7,1848.5L2368.6,1859.4L2357.7,1870.3" fill="none" stroke="#00008B" stroke-width="4.4" stroke-linecap="butt" stroke-linejoin="miter"/><path d="M2468.3,1848.5L2479.2,1859.4L2468.3,1870.3" fill="none" stroke="#00008B" stroke-width="4.4" stroke-linecap="butt" stroke-linejoin="miter"/><path d="M2578.9,1848.5L2589.8,1859.4L2578.9,1870.3" fill="none" stroke="#00008B" stroke-width="4.4" stroke-linecap="butt" stroke-linejoin="miter"/><path d="M2689.6,1848.5L2700.5,1859.4L2689.6,1870.3" fill="none" stroke="#00008B" stroke-width="4.4" stroke-linecap="butt" stroke-linejoin="miter"/><rect x="1373.2" y="1837.6" width="21.6" height="43.6" fill="#00008B"/><rect x="1422.1" y="1837.6" width="111.8" height="43.6" fill="#00008B"/><rect x="1615.0" y="1837.6" width="19.9" height="43.6" fill="#00008B"/><rect x="1798.2" y="1837.6" width="12.7" height="43.6" fill="#00008B"/><rect x="1943.9" y="1837.6" width="13.0" height="43.6" fill="#00008B"/><rect x="2019.9" y="1837.6" width="19.9" height="43.6" fill="#00008B"/><rect x="2093.9" y="1837.6" width="34.9" height="43.6" fill="#00008B"/><rect x="2220.2" y="1837.6" width="7.6" height="43.6" fill="#00008B"/><rect x="2237.0" y="1837.6" width="21.9" height="43.6" fill="#00008B"/><rect x="2710.2" y="1837.6" width="13.5" height="43.6" fill="#00008B"/><rect x="2752.0" y="1837.6" width="26.0" height="43.6" fill="#00008B"/><rect x="2785.9" y="1837.6" width="74.0" height="43.6" fill="#00008B"/><circle cx="2860.2" cy="1859.4" r="2.6" fill="#00008B"/>
<line x1="3302.0" y1="1859.4" x2="3414.0" y2="1859.4" stroke="#00008B" stroke-width="4.4"/><path d="M3402.6,1848.5L3413.5,1859.4L3402.6,1870.3" fill="none" stroke="#00008B" stroke-width="4.4" stroke-linecap="butt" stroke-linejoin="miter"/><rect x="3302.0" y="1837.6" width="83.0" height="43.6" fill="#00008B"/>
<line x1="3107.1" y1="1998.5" x2="3222.0" y2="1998.5" stroke="#00008B" stroke-width="4.4"/><path d="M3094.7,1987.6L3105.6,1998.5L3094.7,2009.4" fill="none" stroke="#00008B" stroke-width="4.4" stroke-linecap="butt" stroke-linejoin="miter"/><rect x="3107.1" y="1976.7" width="12.8" height="43.6" fill="#00008B"/><rect x="3137.0" y="1976.7" width="15.0" height="43.6" fill="#00008B"/><rect x="3175.0" y="1976.7" width="3.0" height="43.6" fill="#00008B"/><rect x="3195.9" y="1976.7" width="26.1" height="43.6" fill="#00008B"/><circle cx="3222.2" cy="1998.5" r="2.6" fill="#00008B"/>
<text id="gTprn" x="843.30" y="1956.80" font-size="35.56" fill="#000" text-anchor="middle" textLength="73.72" lengthAdjust="spacingAndGlyphs">Tprn</text>
<text id="gSsna1" x="1289.10" y="1956.80" font-size="35.56" fill="#000" text-anchor="middle" textLength="98.93" lengthAdjust="spacingAndGlyphs">Ssna1</text>
<text id="gAnapc2" x="2116.70" y="1818.00" font-size="35.56" fill="#000" text-anchor="middle" textLength="120.16" lengthAdjust="spacingAndGlyphs">Anapc2</text>
<text id="gLrrc26" x="3357.50" y="1817.80" font-size="35.56" fill="#000" text-anchor="middle" textLength="103.91" lengthAdjust="spacingAndGlyphs">Lrrc26</text>
<text id="gTmem210" x="3163.40" y="1956.80" font-size="35.56" fill="#000" text-anchor="middle" textLength="164.07" lengthAdjust="spacingAndGlyphs">Tmem210</text>
<rect x="1287.8" y="2155.7" width="162.9" height="17" fill="#696969"/>
<rect x="2104.2" y="2155.7" width="66.7" height="17" fill="#696969"/>
<rect x="3341.3" y="2155.7" width="12.3" height="17" fill="#696969"/>
</svg></body></html>
